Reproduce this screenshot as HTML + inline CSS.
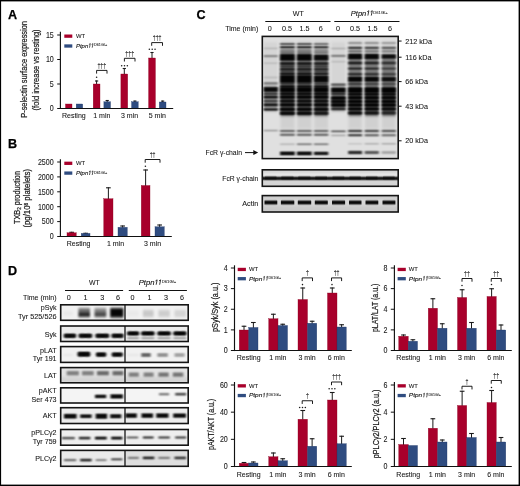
<!DOCTYPE html><html><head><meta charset="utf-8"><style>html,body{margin:0;padding:0;background:#fff;}svg{display:block;}svg{will-change:transform;}text{fill:#161616;stroke:#161616;stroke-width:0.08px;}</style></head><body>
<svg width="520" height="486" viewBox="0 0 520 486" font-family='"Liberation Sans", sans-serif'>
<defs><filter id="b1" x="-20%" y="-50%" width="140%" height="200%"><feGaussianBlur stdDeviation="0.75 0.65"/></filter><filter id="b2" x="-20%" y="-50%" width="140%" height="200%"><feGaussianBlur stdDeviation="1.1 0.9"/></filter><filter id="b3" x="-20%" y="-20%" width="140%" height="140%"><feGaussianBlur stdDeviation="0.65 0.8"/></filter><filter id="b4" x="-20%" y="-20%" width="140%" height="140%"><feGaussianBlur stdDeviation="1.2 1.5"/></filter><filter id="bh" x="-10%" y="-10%" width="120%" height="120%"><feGaussianBlur stdDeviation="0.8 0"/></filter><linearGradient id="g0" x1="0" y1="0" x2="0" y2="1"><stop offset="0.000" stop-opacity="0.008"/><stop offset="0.083" stop-opacity="0.037"/><stop offset="0.167" stop-opacity="0.119"/><stop offset="0.250" stop-opacity="0.285"/><stop offset="0.333" stop-opacity="0.511"/><stop offset="0.417" stop-opacity="0.714"/><stop offset="0.500" stop-opacity="0.795"/><stop offset="0.583" stop-opacity="0.714"/><stop offset="0.667" stop-opacity="0.511"/><stop offset="0.750" stop-opacity="0.285"/><stop offset="0.833" stop-opacity="0.119"/><stop offset="0.917" stop-opacity="0.037"/><stop offset="1.000" stop-opacity="0.008"/></linearGradient><linearGradient id="g1" x1="0" y1="0" x2="0" y2="1"><stop offset="0.000" stop-opacity="0.008"/><stop offset="0.083" stop-opacity="0.041"/><stop offset="0.167" stop-opacity="0.138"/><stop offset="0.250" stop-opacity="0.332"/><stop offset="0.333" stop-opacity="0.586"/><stop offset="0.417" stop-opacity="0.796"/><stop offset="0.500" stop-opacity="0.875"/><stop offset="0.583" stop-opacity="0.796"/><stop offset="0.667" stop-opacity="0.586"/><stop offset="0.750" stop-opacity="0.332"/><stop offset="0.833" stop-opacity="0.138"/><stop offset="0.917" stop-opacity="0.041"/><stop offset="1.000" stop-opacity="0.008"/></linearGradient><linearGradient id="g2" x1="0" y1="0" x2="0" y2="1"><stop offset="0.000" stop-opacity="0.008"/><stop offset="0.083" stop-opacity="0.040"/><stop offset="0.167" stop-opacity="0.133"/><stop offset="0.250" stop-opacity="0.320"/><stop offset="0.333" stop-opacity="0.568"/><stop offset="0.417" stop-opacity="0.777"/><stop offset="0.500" stop-opacity="0.858"/><stop offset="0.583" stop-opacity="0.777"/><stop offset="0.667" stop-opacity="0.568"/><stop offset="0.750" stop-opacity="0.320"/><stop offset="0.833" stop-opacity="0.133"/><stop offset="0.917" stop-opacity="0.040"/><stop offset="1.000" stop-opacity="0.008"/></linearGradient><linearGradient id="g3" x1="0" y1="0" x2="0" y2="1"><stop offset="0.000" stop-opacity="0.008"/><stop offset="0.083" stop-opacity="0.043"/><stop offset="0.167" stop-opacity="0.148"/><stop offset="0.250" stop-opacity="0.357"/><stop offset="0.333" stop-opacity="0.621"/><stop offset="0.417" stop-opacity="0.829"/><stop offset="0.500" stop-opacity="0.904"/><stop offset="0.583" stop-opacity="0.829"/><stop offset="0.667" stop-opacity="0.621"/><stop offset="0.750" stop-opacity="0.357"/><stop offset="0.833" stop-opacity="0.148"/><stop offset="0.917" stop-opacity="0.043"/><stop offset="1.000" stop-opacity="0.008"/></linearGradient><linearGradient id="g4" x1="0" y1="0" x2="0" y2="1"><stop offset="0.000" stop-opacity="0.008"/><stop offset="0.083" stop-opacity="0.070"/><stop offset="0.167" stop-opacity="0.289"/><stop offset="0.250" stop-opacity="0.643"/><stop offset="0.333" stop-opacity="0.901"/><stop offset="0.417" stop-opacity="0.986"/><stop offset="0.500" stop-opacity="0.998"/><stop offset="0.583" stop-opacity="0.986"/><stop offset="0.667" stop-opacity="0.901"/><stop offset="0.750" stop-opacity="0.643"/><stop offset="0.833" stop-opacity="0.289"/><stop offset="0.917" stop-opacity="0.070"/><stop offset="1.000" stop-opacity="0.008"/></linearGradient><linearGradient id="g5" x1="0" y1="0" x2="0" y2="1"><stop offset="0.000" stop-opacity="0.008"/><stop offset="0.083" stop-opacity="0.045"/><stop offset="0.167" stop-opacity="0.159"/><stop offset="0.250" stop-opacity="0.382"/><stop offset="0.333" stop-opacity="0.655"/><stop offset="0.417" stop-opacity="0.858"/><stop offset="0.500" stop-opacity="0.928"/><stop offset="0.583" stop-opacity="0.858"/><stop offset="0.667" stop-opacity="0.655"/><stop offset="0.750" stop-opacity="0.382"/><stop offset="0.833" stop-opacity="0.159"/><stop offset="0.917" stop-opacity="0.045"/><stop offset="1.000" stop-opacity="0.008"/></linearGradient><linearGradient id="g6" x1="0" y1="0" x2="0" y2="1"><stop offset="0.000" stop-opacity="0.008"/><stop offset="0.083" stop-opacity="0.039"/><stop offset="0.167" stop-opacity="0.128"/><stop offset="0.250" stop-opacity="0.308"/><stop offset="0.333" stop-opacity="0.549"/><stop offset="0.417" stop-opacity="0.757"/><stop offset="0.500" stop-opacity="0.838"/><stop offset="0.583" stop-opacity="0.757"/><stop offset="0.667" stop-opacity="0.549"/><stop offset="0.750" stop-opacity="0.308"/><stop offset="0.833" stop-opacity="0.128"/><stop offset="0.917" stop-opacity="0.039"/><stop offset="1.000" stop-opacity="0.008"/></linearGradient><linearGradient id="g7" x1="0" y1="0" x2="0" y2="1"><stop offset="0.000" stop-opacity="0.008"/><stop offset="0.083" stop-opacity="0.047"/><stop offset="0.167" stop-opacity="0.170"/><stop offset="0.250" stop-opacity="0.408"/><stop offset="0.333" stop-opacity="0.687"/><stop offset="0.417" stop-opacity="0.883"/><stop offset="0.500" stop-opacity="0.947"/><stop offset="0.583" stop-opacity="0.883"/><stop offset="0.667" stop-opacity="0.687"/><stop offset="0.750" stop-opacity="0.408"/><stop offset="0.833" stop-opacity="0.170"/><stop offset="0.917" stop-opacity="0.047"/><stop offset="1.000" stop-opacity="0.008"/></linearGradient><linearGradient id="g8" x1="0" y1="0" x2="0" y2="1"><stop offset="0.000" stop-opacity="0.008"/><stop offset="0.083" stop-opacity="0.105"/><stop offset="0.167" stop-opacity="0.456"/><stop offset="0.250" stop-opacity="0.849"/><stop offset="0.333" stop-opacity="0.985"/><stop offset="0.417" stop-opacity="1.000"/><stop offset="0.500" stop-opacity="1.000"/><stop offset="0.583" stop-opacity="1.000"/><stop offset="0.667" stop-opacity="0.985"/><stop offset="0.750" stop-opacity="0.849"/><stop offset="0.833" stop-opacity="0.456"/><stop offset="0.917" stop-opacity="0.105"/><stop offset="1.000" stop-opacity="0.008"/></linearGradient><linearGradient id="g9" x1="0" y1="0" x2="0" y2="1"><stop offset="0.000" stop-opacity="0.008"/><stop offset="0.083" stop-opacity="0.049"/><stop offset="0.167" stop-opacity="0.181"/><stop offset="0.250" stop-opacity="0.434"/><stop offset="0.333" stop-opacity="0.718"/><stop offset="0.417" stop-opacity="0.904"/><stop offset="0.500" stop-opacity="0.961"/><stop offset="0.583" stop-opacity="0.904"/><stop offset="0.667" stop-opacity="0.718"/><stop offset="0.750" stop-opacity="0.434"/><stop offset="0.833" stop-opacity="0.181"/><stop offset="0.917" stop-opacity="0.049"/><stop offset="1.000" stop-opacity="0.008"/></linearGradient><linearGradient id="g10" x1="0" y1="0" x2="0" y2="1"><stop offset="0.000" stop-opacity="0.008"/><stop offset="0.083" stop-opacity="0.126"/><stop offset="0.167" stop-opacity="0.544"/><stop offset="0.250" stop-opacity="0.914"/><stop offset="0.333" stop-opacity="0.996"/><stop offset="0.417" stop-opacity="1.000"/><stop offset="0.500" stop-opacity="1.000"/><stop offset="0.583" stop-opacity="1.000"/><stop offset="0.667" stop-opacity="0.996"/><stop offset="0.750" stop-opacity="0.914"/><stop offset="0.833" stop-opacity="0.544"/><stop offset="0.917" stop-opacity="0.126"/><stop offset="1.000" stop-opacity="0.008"/></linearGradient><linearGradient id="g11" x1="0" y1="0" x2="0" y2="1"><stop offset="0.000" stop-opacity="0.008"/><stop offset="0.083" stop-opacity="0.056"/><stop offset="0.167" stop-opacity="0.218"/><stop offset="0.250" stop-opacity="0.513"/><stop offset="0.333" stop-opacity="0.801"/><stop offset="0.417" stop-opacity="0.951"/><stop offset="0.500" stop-opacity="0.986"/><stop offset="0.583" stop-opacity="0.951"/><stop offset="0.667" stop-opacity="0.801"/><stop offset="0.750" stop-opacity="0.513"/><stop offset="0.833" stop-opacity="0.218"/><stop offset="0.917" stop-opacity="0.056"/><stop offset="1.000" stop-opacity="0.008"/></linearGradient><linearGradient id="g12" x1="0" y1="0" x2="0" y2="1"><stop offset="0.000" stop-opacity="0.008"/><stop offset="0.083" stop-opacity="0.086"/><stop offset="0.167" stop-opacity="0.369"/><stop offset="0.250" stop-opacity="0.758"/><stop offset="0.333" stop-opacity="0.958"/><stop offset="0.417" stop-opacity="0.997"/><stop offset="0.500" stop-opacity="1.000"/><stop offset="0.583" stop-opacity="0.997"/><stop offset="0.667" stop-opacity="0.958"/><stop offset="0.750" stop-opacity="0.758"/><stop offset="0.833" stop-opacity="0.369"/><stop offset="0.917" stop-opacity="0.086"/><stop offset="1.000" stop-opacity="0.008"/></linearGradient><linearGradient id="g13" x1="0" y1="0" x2="0" y2="1"><stop offset="0.000" stop-opacity="0.008"/><stop offset="0.083" stop-opacity="0.101"/><stop offset="0.167" stop-opacity="0.438"/><stop offset="0.250" stop-opacity="0.833"/><stop offset="0.333" stop-opacity="0.982"/><stop offset="0.417" stop-opacity="0.999"/><stop offset="0.500" stop-opacity="1.000"/><stop offset="0.583" stop-opacity="0.999"/><stop offset="0.667" stop-opacity="0.982"/><stop offset="0.750" stop-opacity="0.833"/><stop offset="0.833" stop-opacity="0.438"/><stop offset="0.917" stop-opacity="0.101"/><stop offset="1.000" stop-opacity="0.008"/></linearGradient><linearGradient id="g14" x1="0" y1="0" x2="0" y2="1"><stop offset="0.000" stop-opacity="0.008"/><stop offset="0.083" stop-opacity="0.051"/><stop offset="0.167" stop-opacity="0.193"/><stop offset="0.250" stop-opacity="0.460"/><stop offset="0.333" stop-opacity="0.747"/><stop offset="0.417" stop-opacity="0.923"/><stop offset="0.500" stop-opacity="0.972"/><stop offset="0.583" stop-opacity="0.923"/><stop offset="0.667" stop-opacity="0.747"/><stop offset="0.750" stop-opacity="0.460"/><stop offset="0.833" stop-opacity="0.193"/><stop offset="0.917" stop-opacity="0.051"/><stop offset="1.000" stop-opacity="0.008"/></linearGradient><linearGradient id="g15" x1="0" y1="0" x2="0" y2="1"><stop offset="0.000" stop-opacity="0.008"/><stop offset="0.083" stop-opacity="0.050"/><stop offset="0.167" stop-opacity="0.187"/><stop offset="0.250" stop-opacity="0.447"/><stop offset="0.333" stop-opacity="0.733"/><stop offset="0.417" stop-opacity="0.914"/><stop offset="0.500" stop-opacity="0.967"/><stop offset="0.583" stop-opacity="0.914"/><stop offset="0.667" stop-opacity="0.733"/><stop offset="0.750" stop-opacity="0.447"/><stop offset="0.833" stop-opacity="0.187"/><stop offset="0.917" stop-opacity="0.050"/><stop offset="1.000" stop-opacity="0.008"/></linearGradient><linearGradient id="g16" x1="0" y1="0" x2="0" y2="1"><stop offset="0.000" stop-opacity="0.008"/><stop offset="0.083" stop-opacity="0.082"/><stop offset="0.167" stop-opacity="0.353"/><stop offset="0.250" stop-opacity="0.737"/><stop offset="0.333" stop-opacity="0.950"/><stop offset="0.417" stop-opacity="0.996"/><stop offset="0.500" stop-opacity="1.000"/><stop offset="0.583" stop-opacity="0.996"/><stop offset="0.667" stop-opacity="0.950"/><stop offset="0.750" stop-opacity="0.737"/><stop offset="0.833" stop-opacity="0.353"/><stop offset="0.917" stop-opacity="0.082"/><stop offset="1.000" stop-opacity="0.008"/></linearGradient><linearGradient id="g17" x1="0" y1="0" x2="0" y2="1"><stop offset="0.000" stop-opacity="0.008"/><stop offset="0.083" stop-opacity="0.073"/><stop offset="0.167" stop-opacity="0.305"/><stop offset="0.250" stop-opacity="0.668"/><stop offset="0.333" stop-opacity="0.916"/><stop offset="0.417" stop-opacity="0.990"/><stop offset="0.500" stop-opacity="0.999"/><stop offset="0.583" stop-opacity="0.990"/><stop offset="0.667" stop-opacity="0.916"/><stop offset="0.750" stop-opacity="0.668"/><stop offset="0.833" stop-opacity="0.305"/><stop offset="0.917" stop-opacity="0.073"/><stop offset="1.000" stop-opacity="0.008"/></linearGradient><linearGradient id="g18" x1="0" y1="0" x2="0" y2="1"><stop offset="0.000" stop-opacity="0.008"/><stop offset="0.083" stop-opacity="0.077"/><stop offset="0.167" stop-opacity="0.328"/><stop offset="0.250" stop-opacity="0.703"/><stop offset="0.333" stop-opacity="0.935"/><stop offset="0.417" stop-opacity="0.994"/><stop offset="0.500" stop-opacity="0.999"/><stop offset="0.583" stop-opacity="0.994"/><stop offset="0.667" stop-opacity="0.935"/><stop offset="0.750" stop-opacity="0.703"/><stop offset="0.833" stop-opacity="0.328"/><stop offset="0.917" stop-opacity="0.077"/><stop offset="1.000" stop-opacity="0.008"/></linearGradient><linearGradient id="g19" x1="0" y1="0" x2="0" y2="1"><stop offset="0.000" stop-opacity="0.008"/><stop offset="0.083" stop-opacity="0.063"/><stop offset="0.167" stop-opacity="0.252"/><stop offset="0.250" stop-opacity="0.579"/><stop offset="0.333" stop-opacity="0.857"/><stop offset="0.417" stop-opacity="0.973"/><stop offset="0.500" stop-opacity="0.995"/><stop offset="0.583" stop-opacity="0.973"/><stop offset="0.667" stop-opacity="0.857"/><stop offset="0.750" stop-opacity="0.579"/><stop offset="0.833" stop-opacity="0.252"/><stop offset="0.917" stop-opacity="0.063"/><stop offset="1.000" stop-opacity="0.008"/></linearGradient><linearGradient id="g20" x1="0" y1="0" x2="0" y2="1"><stop offset="0.000" stop-opacity="0.008"/><stop offset="0.083" stop-opacity="0.054"/><stop offset="0.167" stop-opacity="0.208"/><stop offset="0.250" stop-opacity="0.491"/><stop offset="0.333" stop-opacity="0.780"/><stop offset="0.417" stop-opacity="0.940"/><stop offset="0.500" stop-opacity="0.982"/><stop offset="0.583" stop-opacity="0.940"/><stop offset="0.667" stop-opacity="0.780"/><stop offset="0.750" stop-opacity="0.491"/><stop offset="0.833" stop-opacity="0.208"/><stop offset="0.917" stop-opacity="0.054"/><stop offset="1.000" stop-opacity="0.008"/></linearGradient><linearGradient id="g21" x1="0" y1="0" x2="0" y2="1"><stop offset="0.000" stop-opacity="0.008"/><stop offset="0.083" stop-opacity="0.050"/><stop offset="0.167" stop-opacity="0.188"/><stop offset="0.250" stop-opacity="0.449"/><stop offset="0.333" stop-opacity="0.735"/><stop offset="0.417" stop-opacity="0.915"/><stop offset="0.500" stop-opacity="0.968"/><stop offset="0.583" stop-opacity="0.915"/><stop offset="0.667" stop-opacity="0.735"/><stop offset="0.750" stop-opacity="0.449"/><stop offset="0.833" stop-opacity="0.188"/><stop offset="0.917" stop-opacity="0.050"/><stop offset="1.000" stop-opacity="0.008"/></linearGradient><linearGradient id="g22" x1="0" y1="0" x2="0" y2="1"><stop offset="0.000" stop-opacity="0.008"/><stop offset="0.083" stop-opacity="0.061"/><stop offset="0.167" stop-opacity="0.243"/><stop offset="0.250" stop-opacity="0.562"/><stop offset="0.333" stop-opacity="0.844"/><stop offset="0.417" stop-opacity="0.969"/><stop offset="0.500" stop-opacity="0.993"/><stop offset="0.583" stop-opacity="0.969"/><stop offset="0.667" stop-opacity="0.844"/><stop offset="0.750" stop-opacity="0.562"/><stop offset="0.833" stop-opacity="0.243"/><stop offset="0.917" stop-opacity="0.061"/><stop offset="1.000" stop-opacity="0.008"/></linearGradient><linearGradient id="g23" x1="0" y1="0" x2="0" y2="1"><stop offset="0.000" stop-opacity="0.008"/><stop offset="0.083" stop-opacity="0.070"/><stop offset="0.167" stop-opacity="0.288"/><stop offset="0.250" stop-opacity="0.642"/><stop offset="0.333" stop-opacity="0.900"/><stop offset="0.417" stop-opacity="0.986"/><stop offset="0.500" stop-opacity="0.998"/><stop offset="0.583" stop-opacity="0.986"/><stop offset="0.667" stop-opacity="0.900"/><stop offset="0.750" stop-opacity="0.642"/><stop offset="0.833" stop-opacity="0.288"/><stop offset="0.917" stop-opacity="0.070"/><stop offset="1.000" stop-opacity="0.008"/></linearGradient><linearGradient id="g24" x1="0" y1="0" x2="0" y2="1"><stop offset="0.000" stop-opacity="0.008"/><stop offset="0.083" stop-opacity="0.067"/><stop offset="0.167" stop-opacity="0.274"/><stop offset="0.250" stop-opacity="0.618"/><stop offset="0.333" stop-opacity="0.885"/><stop offset="0.417" stop-opacity="0.982"/><stop offset="0.500" stop-opacity="0.997"/><stop offset="0.583" stop-opacity="0.982"/><stop offset="0.667" stop-opacity="0.885"/><stop offset="0.750" stop-opacity="0.618"/><stop offset="0.833" stop-opacity="0.274"/><stop offset="0.917" stop-opacity="0.067"/><stop offset="1.000" stop-opacity="0.008"/></linearGradient><linearGradient id="g25" x1="0" y1="0" x2="0" y2="1"><stop offset="0.000" stop-opacity="0.008"/><stop offset="0.083" stop-opacity="0.062"/><stop offset="0.167" stop-opacity="0.247"/><stop offset="0.250" stop-opacity="0.569"/><stop offset="0.333" stop-opacity="0.849"/><stop offset="0.417" stop-opacity="0.971"/><stop offset="0.500" stop-opacity="0.994"/><stop offset="0.583" stop-opacity="0.971"/><stop offset="0.667" stop-opacity="0.849"/><stop offset="0.750" stop-opacity="0.569"/><stop offset="0.833" stop-opacity="0.247"/><stop offset="0.917" stop-opacity="0.062"/><stop offset="1.000" stop-opacity="0.008"/></linearGradient><linearGradient id="g26" x1="0" y1="0" x2="0" y2="1"><stop offset="0.000" stop-opacity="0.008"/><stop offset="0.083" stop-opacity="0.154"/><stop offset="0.167" stop-opacity="0.640"/><stop offset="0.250" stop-opacity="0.959"/><stop offset="0.333" stop-opacity="0.999"/><stop offset="0.417" stop-opacity="1.000"/><stop offset="0.500" stop-opacity="1.000"/><stop offset="0.583" stop-opacity="1.000"/><stop offset="0.667" stop-opacity="0.999"/><stop offset="0.750" stop-opacity="0.959"/><stop offset="0.833" stop-opacity="0.640"/><stop offset="0.917" stop-opacity="0.154"/><stop offset="1.000" stop-opacity="0.008"/></linearGradient><linearGradient id="g27" x1="0" y1="0" x2="0" y2="1"><stop offset="0.000" stop-opacity="0.008"/><stop offset="0.083" stop-opacity="0.085"/><stop offset="0.167" stop-opacity="0.363"/><stop offset="0.250" stop-opacity="0.750"/><stop offset="0.333" stop-opacity="0.955"/><stop offset="0.417" stop-opacity="0.997"/><stop offset="0.500" stop-opacity="1.000"/><stop offset="0.583" stop-opacity="0.997"/><stop offset="0.667" stop-opacity="0.955"/><stop offset="0.750" stop-opacity="0.750"/><stop offset="0.833" stop-opacity="0.363"/><stop offset="0.917" stop-opacity="0.085"/><stop offset="1.000" stop-opacity="0.008"/></linearGradient><linearGradient id="g28" x1="0" y1="0" x2="0" y2="1"><stop offset="0.000" stop-opacity="0.008"/><stop offset="0.083" stop-opacity="0.102"/><stop offset="0.167" stop-opacity="0.444"/><stop offset="0.250" stop-opacity="0.838"/><stop offset="0.333" stop-opacity="0.983"/><stop offset="0.417" stop-opacity="0.999"/><stop offset="0.500" stop-opacity="1.000"/><stop offset="0.583" stop-opacity="0.999"/><stop offset="0.667" stop-opacity="0.983"/><stop offset="0.750" stop-opacity="0.838"/><stop offset="0.833" stop-opacity="0.444"/><stop offset="0.917" stop-opacity="0.102"/><stop offset="1.000" stop-opacity="0.008"/></linearGradient><linearGradient id="g29" x1="0" y1="0" x2="0" y2="1"><stop offset="0.000" stop-opacity="0.008"/><stop offset="0.083" stop-opacity="0.038"/><stop offset="0.167" stop-opacity="0.127"/><stop offset="0.250" stop-opacity="0.304"/><stop offset="0.333" stop-opacity="0.542"/><stop offset="0.417" stop-opacity="0.750"/><stop offset="0.500" stop-opacity="0.831"/><stop offset="0.583" stop-opacity="0.750"/><stop offset="0.667" stop-opacity="0.542"/><stop offset="0.750" stop-opacity="0.304"/><stop offset="0.833" stop-opacity="0.127"/><stop offset="0.917" stop-opacity="0.038"/><stop offset="1.000" stop-opacity="0.008"/></linearGradient><linearGradient id="g30" x1="0" y1="0" x2="0" y2="1"><stop offset="0.000" stop-opacity="0.008"/><stop offset="0.083" stop-opacity="0.059"/><stop offset="0.167" stop-opacity="0.234"/><stop offset="0.250" stop-opacity="0.545"/><stop offset="0.333" stop-opacity="0.829"/><stop offset="0.417" stop-opacity="0.963"/><stop offset="0.500" stop-opacity="0.991"/><stop offset="0.583" stop-opacity="0.963"/><stop offset="0.667" stop-opacity="0.829"/><stop offset="0.750" stop-opacity="0.545"/><stop offset="0.833" stop-opacity="0.234"/><stop offset="0.917" stop-opacity="0.059"/><stop offset="1.000" stop-opacity="0.008"/></linearGradient><linearGradient id="g31" x1="0" y1="0" x2="0" y2="1"><stop offset="0.000" stop-opacity="0.008"/><stop offset="0.083" stop-opacity="0.037"/><stop offset="0.167" stop-opacity="0.122"/><stop offset="0.250" stop-opacity="0.293"/><stop offset="0.333" stop-opacity="0.525"/><stop offset="0.417" stop-opacity="0.729"/><stop offset="0.500" stop-opacity="0.811"/><stop offset="0.583" stop-opacity="0.729"/><stop offset="0.667" stop-opacity="0.525"/><stop offset="0.750" stop-opacity="0.293"/><stop offset="0.833" stop-opacity="0.122"/><stop offset="0.917" stop-opacity="0.037"/><stop offset="1.000" stop-opacity="0.008"/></linearGradient><linearGradient id="g32" x1="0" y1="0" x2="0" y2="1"><stop offset="0.000" stop-opacity="0.008"/><stop offset="0.083" stop-opacity="0.037"/><stop offset="0.167" stop-opacity="0.118"/><stop offset="0.250" stop-opacity="0.282"/><stop offset="0.333" stop-opacity="0.506"/><stop offset="0.417" stop-opacity="0.708"/><stop offset="0.500" stop-opacity="0.789"/><stop offset="0.583" stop-opacity="0.708"/><stop offset="0.667" stop-opacity="0.506"/><stop offset="0.750" stop-opacity="0.282"/><stop offset="0.833" stop-opacity="0.118"/><stop offset="0.917" stop-opacity="0.037"/><stop offset="1.000" stop-opacity="0.008"/></linearGradient><linearGradient id="g33" x1="0" y1="0" x2="0" y2="1"><stop offset="0.000" stop-opacity="0.008"/><stop offset="0.083" stop-opacity="0.046"/><stop offset="0.167" stop-opacity="0.165"/><stop offset="0.250" stop-opacity="0.396"/><stop offset="0.333" stop-opacity="0.673"/><stop offset="0.417" stop-opacity="0.873"/><stop offset="0.500" stop-opacity="0.939"/><stop offset="0.583" stop-opacity="0.873"/><stop offset="0.667" stop-opacity="0.673"/><stop offset="0.750" stop-opacity="0.396"/><stop offset="0.833" stop-opacity="0.165"/><stop offset="0.917" stop-opacity="0.046"/><stop offset="1.000" stop-opacity="0.008"/></linearGradient><linearGradient id="g34" x1="0" y1="0" x2="0" y2="1"><stop offset="0.000" stop-opacity="0.008"/><stop offset="0.083" stop-opacity="0.041"/><stop offset="0.167" stop-opacity="0.140"/><stop offset="0.250" stop-opacity="0.338"/><stop offset="0.333" stop-opacity="0.594"/><stop offset="0.417" stop-opacity="0.803"/><stop offset="0.500" stop-opacity="0.882"/><stop offset="0.583" stop-opacity="0.803"/><stop offset="0.667" stop-opacity="0.594"/><stop offset="0.750" stop-opacity="0.338"/><stop offset="0.833" stop-opacity="0.140"/><stop offset="0.917" stop-opacity="0.041"/><stop offset="1.000" stop-opacity="0.008"/></linearGradient><linearGradient id="g35" x1="0" y1="0" x2="0" y2="1"><stop offset="0.000" stop-opacity="0.008"/><stop offset="0.083" stop-opacity="0.054"/><stop offset="0.167" stop-opacity="0.209"/><stop offset="0.250" stop-opacity="0.495"/><stop offset="0.333" stop-opacity="0.783"/><stop offset="0.417" stop-opacity="0.942"/><stop offset="0.500" stop-opacity="0.982"/><stop offset="0.583" stop-opacity="0.942"/><stop offset="0.667" stop-opacity="0.783"/><stop offset="0.750" stop-opacity="0.495"/><stop offset="0.833" stop-opacity="0.209"/><stop offset="0.917" stop-opacity="0.054"/><stop offset="1.000" stop-opacity="0.008"/></linearGradient><linearGradient id="g36" x1="0" y1="0" x2="0" y2="1"><stop offset="0.000" stop-opacity="0.008"/><stop offset="0.083" stop-opacity="0.049"/><stop offset="0.167" stop-opacity="0.184"/><stop offset="0.250" stop-opacity="0.440"/><stop offset="0.333" stop-opacity="0.726"/><stop offset="0.417" stop-opacity="0.909"/><stop offset="0.500" stop-opacity="0.964"/><stop offset="0.583" stop-opacity="0.909"/><stop offset="0.667" stop-opacity="0.726"/><stop offset="0.750" stop-opacity="0.440"/><stop offset="0.833" stop-opacity="0.184"/><stop offset="0.917" stop-opacity="0.049"/><stop offset="1.000" stop-opacity="0.008"/></linearGradient><linearGradient id="g37" x1="0" y1="0" x2="0" y2="1"><stop offset="0.000" stop-opacity="0.008"/><stop offset="0.083" stop-opacity="0.050"/><stop offset="0.167" stop-opacity="0.186"/><stop offset="0.250" stop-opacity="0.445"/><stop offset="0.333" stop-opacity="0.731"/><stop offset="0.417" stop-opacity="0.913"/><stop offset="0.500" stop-opacity="0.966"/><stop offset="0.583" stop-opacity="0.913"/><stop offset="0.667" stop-opacity="0.731"/><stop offset="0.750" stop-opacity="0.445"/><stop offset="0.833" stop-opacity="0.186"/><stop offset="0.917" stop-opacity="0.050"/><stop offset="1.000" stop-opacity="0.008"/></linearGradient><linearGradient id="g38" x1="0" y1="0" x2="0" y2="1"><stop offset="0.000" stop-opacity="0.008"/><stop offset="0.083" stop-opacity="0.042"/><stop offset="0.167" stop-opacity="0.145"/><stop offset="0.250" stop-opacity="0.349"/><stop offset="0.333" stop-opacity="0.610"/><stop offset="0.417" stop-opacity="0.819"/><stop offset="0.500" stop-opacity="0.896"/><stop offset="0.583" stop-opacity="0.819"/><stop offset="0.667" stop-opacity="0.610"/><stop offset="0.750" stop-opacity="0.349"/><stop offset="0.833" stop-opacity="0.145"/><stop offset="0.917" stop-opacity="0.042"/><stop offset="1.000" stop-opacity="0.008"/></linearGradient><linearGradient id="g39" x1="0" y1="0" x2="0" y2="1"><stop offset="0.000" stop-opacity="0.008"/><stop offset="0.083" stop-opacity="0.044"/><stop offset="0.167" stop-opacity="0.155"/><stop offset="0.250" stop-opacity="0.373"/><stop offset="0.333" stop-opacity="0.642"/><stop offset="0.417" stop-opacity="0.848"/><stop offset="0.500" stop-opacity="0.920"/><stop offset="0.583" stop-opacity="0.848"/><stop offset="0.667" stop-opacity="0.642"/><stop offset="0.750" stop-opacity="0.373"/><stop offset="0.833" stop-opacity="0.155"/><stop offset="0.917" stop-opacity="0.044"/><stop offset="1.000" stop-opacity="0.008"/></linearGradient><linearGradient id="g40" x1="0" y1="0" x2="0" y2="1"><stop offset="0.000" stop-opacity="0.008"/><stop offset="0.083" stop-opacity="0.064"/><stop offset="0.167" stop-opacity="0.261"/><stop offset="0.250" stop-opacity="0.594"/><stop offset="0.333" stop-opacity="0.868"/><stop offset="0.417" stop-opacity="0.977"/><stop offset="0.500" stop-opacity="0.996"/><stop offset="0.583" stop-opacity="0.977"/><stop offset="0.667" stop-opacity="0.868"/><stop offset="0.750" stop-opacity="0.594"/><stop offset="0.833" stop-opacity="0.261"/><stop offset="0.917" stop-opacity="0.064"/><stop offset="1.000" stop-opacity="0.008"/></linearGradient><linearGradient id="g41" x1="0" y1="0" x2="0" y2="1"><stop offset="0.000" stop-opacity="0.008"/><stop offset="0.083" stop-opacity="0.052"/><stop offset="0.167" stop-opacity="0.198"/><stop offset="0.250" stop-opacity="0.470"/><stop offset="0.333" stop-opacity="0.758"/><stop offset="0.417" stop-opacity="0.929"/><stop offset="0.500" stop-opacity="0.976"/><stop offset="0.583" stop-opacity="0.929"/><stop offset="0.667" stop-opacity="0.758"/><stop offset="0.750" stop-opacity="0.470"/><stop offset="0.833" stop-opacity="0.198"/><stop offset="0.917" stop-opacity="0.052"/><stop offset="1.000" stop-opacity="0.008"/></linearGradient><linearGradient id="g42" x1="0" y1="0" x2="0" y2="1"><stop offset="0.000" stop-opacity="0.008"/><stop offset="0.083" stop-opacity="0.057"/><stop offset="0.167" stop-opacity="0.222"/><stop offset="0.250" stop-opacity="0.520"/><stop offset="0.333" stop-opacity="0.807"/><stop offset="0.417" stop-opacity="0.953"/><stop offset="0.500" stop-opacity="0.988"/><stop offset="0.583" stop-opacity="0.953"/><stop offset="0.667" stop-opacity="0.807"/><stop offset="0.750" stop-opacity="0.520"/><stop offset="0.833" stop-opacity="0.222"/><stop offset="0.917" stop-opacity="0.057"/><stop offset="1.000" stop-opacity="0.008"/></linearGradient><linearGradient id="g43" x1="0" y1="0" x2="0" y2="1"><stop offset="0.000" stop-opacity="0.008"/><stop offset="0.083" stop-opacity="0.040"/><stop offset="0.167" stop-opacity="0.136"/><stop offset="0.250" stop-opacity="0.326"/><stop offset="0.333" stop-opacity="0.577"/><stop offset="0.417" stop-opacity="0.787"/><stop offset="0.500" stop-opacity="0.866"/><stop offset="0.583" stop-opacity="0.787"/><stop offset="0.667" stop-opacity="0.577"/><stop offset="0.750" stop-opacity="0.326"/><stop offset="0.833" stop-opacity="0.136"/><stop offset="0.917" stop-opacity="0.040"/><stop offset="1.000" stop-opacity="0.008"/></linearGradient></defs>
<rect x="0" y="0" width="520" height="486" fill="#fff" />
<text x="8" y="18.7" font-size="12.6" font-weight="bold" style="fill:#000;stroke:#000;stroke-width:0.25px">A</text>
<text x="8.1" y="147.7" font-size="12.6" font-weight="bold" style="fill:#000;stroke:#000;stroke-width:0.25px">B</text>
<text x="196.4" y="18.7" font-size="12.6" font-weight="bold" style="fill:#000;stroke:#000;stroke-width:0.25px">C</text>
<text x="7.9" y="275.1" font-size="12.6" font-weight="bold" style="fill:#000;stroke:#000;stroke-width:0.25px">D</text>
<rect x="65.5" y="104" width="6.5" height="4.5" fill="#a8002b" stroke="#8c0020" stroke-width="0.35"/>
<rect x="76.2" y="104" width="6.5" height="4.5" fill="#2f4c80" stroke="#1d3464" stroke-width="0.35"/>
<line x1="96.6" y1="80.5" x2="96.6" y2="84.5" stroke="#1a1a1a" stroke-width="1"/>
<line x1="95" y1="81" x2="98.2" y2="81" stroke="#1a1a1a" stroke-width="1.1"/>
<rect x="93.2" y="84" width="6.8" height="24.5" fill="#a8002b" stroke="#8c0020" stroke-width="0.35"/>
<line x1="107.2" y1="100" x2="107.2" y2="102.3" stroke="#1a1a1a" stroke-width="1"/>
<line x1="105.6" y1="100.5" x2="108.8" y2="100.5" stroke="#1a1a1a" stroke-width="1.1"/>
<rect x="103.9" y="101.8" width="6.6" height="6.7" fill="#2f4c80" stroke="#1d3464" stroke-width="0.35"/>
<line x1="124.3" y1="68" x2="124.3" y2="74.5" stroke="#1a1a1a" stroke-width="1"/>
<line x1="122.7" y1="68.5" x2="125.9" y2="68.5" stroke="#1a1a1a" stroke-width="1.1"/>
<rect x="120.9" y="74" width="6.8" height="34.5" fill="#a8002b" stroke="#8c0020" stroke-width="0.35"/>
<line x1="134.9" y1="100.6" x2="134.9" y2="102.3" stroke="#1a1a1a" stroke-width="1"/>
<line x1="133.3" y1="101.1" x2="136.5" y2="101.1" stroke="#1a1a1a" stroke-width="1.1"/>
<rect x="131.6" y="101.8" width="6.6" height="6.7" fill="#2f4c80" stroke="#1d3464" stroke-width="0.35"/>
<line x1="152" y1="52" x2="152" y2="58.5" stroke="#1a1a1a" stroke-width="1"/>
<line x1="150.4" y1="52.5" x2="153.6" y2="52.5" stroke="#1a1a1a" stroke-width="1.1"/>
<rect x="148.6" y="58" width="6.8" height="50.5" fill="#a8002b" stroke="#8c0020" stroke-width="0.35"/>
<line x1="162.65" y1="100.6" x2="162.65" y2="102.5" stroke="#1a1a1a" stroke-width="1"/>
<line x1="161.05" y1="101.1" x2="164.25" y2="101.1" stroke="#1a1a1a" stroke-width="1.1"/>
<rect x="159.3" y="102" width="6.7" height="6.5" fill="#2f4c80" stroke="#1d3464" stroke-width="0.35"/>
<line x1="60.4" y1="31.8" x2="60.4" y2="109.05" stroke="#111" stroke-width="1.15"/>
<line x1="59.85" y1="108.5" x2="173.2" y2="108.5" stroke="#111" stroke-width="1.1"/>
<line x1="57.2" y1="108.5" x2="60.4" y2="108.5" stroke="#111" stroke-width="1"/>
<text x="53.8" y="111.35" font-size="8.2" text-anchor="end" textLength="3.95" lengthAdjust="spacingAndGlyphs">0</text>
<line x1="57.2" y1="84" x2="60.4" y2="84" stroke="#111" stroke-width="1"/>
<text x="53.8" y="86.85" font-size="8.2" text-anchor="end" textLength="3.95" lengthAdjust="spacingAndGlyphs">5</text>
<line x1="57.2" y1="59.5" x2="60.4" y2="59.5" stroke="#111" stroke-width="1"/>
<text x="53.8" y="62.35" font-size="8.2" text-anchor="end" textLength="7.9" lengthAdjust="spacingAndGlyphs">10</text>
<line x1="57.2" y1="35" x2="60.4" y2="35" stroke="#111" stroke-width="1"/>
<text x="53.8" y="37.85" font-size="8.2" text-anchor="end" textLength="7.9" lengthAdjust="spacingAndGlyphs">15</text>
<text x="73.85" y="118.1" font-size="7.4" text-anchor="middle" textLength="23.83" lengthAdjust="spacingAndGlyphs">Resting</text>
<text x="101.85" y="118.1" font-size="7.4" text-anchor="middle" textLength="17.19" lengthAdjust="spacingAndGlyphs">1 min</text>
<text x="129.6" y="118.1" font-size="7.4" text-anchor="middle" textLength="17.19" lengthAdjust="spacingAndGlyphs">3 min</text>
<text x="157.3" y="118.1" font-size="7.4" text-anchor="middle" textLength="17.19" lengthAdjust="spacingAndGlyphs">5 min</text>
<polyline points="96.6,73.6 96.6,70.4 107,70.4 107,73.6" fill="none" stroke="#111" stroke-width="0.95"/>
<text x="101.8" y="67.7" font-size="6.8" text-anchor="middle" textLength="8.7" lengthAdjust="spacingAndGlyphs">†††</text>
<polyline points="124.4,61.5 124.4,58.3 135,58.3 135,61.5" fill="none" stroke="#111" stroke-width="0.95"/>
<text x="129.7" y="55.6" font-size="6.8" text-anchor="middle" textLength="8.7" lengthAdjust="spacingAndGlyphs">†††</text>
<polyline points="151.7,45.8 151.7,42.6 162.5,42.6 162.5,45.8" fill="none" stroke="#111" stroke-width="0.95"/>
<text x="157.1" y="39.9" font-size="6.8" text-anchor="middle" textLength="8.7" lengthAdjust="spacingAndGlyphs">†††</text>
<circle cx="96.6" cy="77.2" r="0.78" fill="#1a1a1a"/>
<circle cx="121.65" cy="65.7" r="0.78" fill="#1a1a1a"/>
<circle cx="124.5" cy="65.7" r="0.78" fill="#1a1a1a"/>
<circle cx="127.35" cy="65.7" r="0.78" fill="#1a1a1a"/>
<circle cx="149.35" cy="49.2" r="0.78" fill="#1a1a1a"/>
<circle cx="152.2" cy="49.2" r="0.78" fill="#1a1a1a"/>
<circle cx="155.05" cy="49.2" r="0.78" fill="#1a1a1a"/>
<rect x="64.3" y="34.5" width="8" height="3.3" fill="#a8002b" />
<text x="75.9" y="37.9" font-size="6.2" textLength="9.16" lengthAdjust="spacingAndGlyphs">WT</text>
<rect x="64.3" y="44.35" width="8" height="3.3" fill="#2f4c80" />
<text x="75.9" y="47.7" font-size="6.2" font-style="italic" style="stroke-width:0.12px" textLength="12.32" lengthAdjust="spacingAndGlyphs">Ptpn</text>
<path d="M89.48,47.7 L90.3,43.61 L88.94,44.48" fill="none" stroke="#161616" stroke-width="0.71" stroke-linejoin="miter"/>
<path d="M92.21,47.7 L93.03,43.61 L91.67,44.48" fill="none" stroke="#161616" stroke-width="0.71" stroke-linejoin="miter"/>
<text x="93.9" y="46.21" font-size="3.47" style="stroke-width:0.05px" textLength="13.3" lengthAdjust="spacingAndGlyphs">D61G/+</text>
<text transform="translate(27.4,69.4) rotate(-90)" font-size="8.2" text-anchor="middle" style="stroke-width:0.2px" textLength="96.7" lengthAdjust="spacingAndGlyphs">P-selectin surface expression</text>
<text transform="translate(38.9,69.9) rotate(-90)" font-size="8.2" text-anchor="middle" style="stroke-width:0.2px" textLength="81" lengthAdjust="spacingAndGlyphs">(fold increase vs resting)</text>
<line x1="71.62" y1="231.8" x2="71.62" y2="233.3" stroke="#1a1a1a" stroke-width="1"/>
<line x1="69.28" y1="232.3" x2="73.97" y2="232.3" stroke="#1a1a1a" stroke-width="1.1"/>
<rect x="67" y="232.8" width="9.25" height="3.7" fill="#a8002b" stroke="#8c0020" stroke-width="0.35"/>
<line x1="85.62" y1="232.8" x2="85.62" y2="233.9" stroke="#1a1a1a" stroke-width="1"/>
<line x1="83.28" y1="233.3" x2="87.97" y2="233.3" stroke="#1a1a1a" stroke-width="1.1"/>
<rect x="81.25" y="233.4" width="8.75" height="3.1" fill="#2f4c80" stroke="#1d3464" stroke-width="0.35"/>
<line x1="108.38" y1="187.3" x2="108.38" y2="199.25" stroke="#1a1a1a" stroke-width="1"/>
<line x1="106.03" y1="187.8" x2="110.72" y2="187.8" stroke="#1a1a1a" stroke-width="1.1"/>
<rect x="103.75" y="198.75" width="9.25" height="37.75" fill="#a8002b" stroke="#8c0020" stroke-width="0.35"/>
<line x1="122.62" y1="225.5" x2="122.62" y2="227.8" stroke="#1a1a1a" stroke-width="1"/>
<line x1="120.28" y1="226" x2="124.97" y2="226" stroke="#1a1a1a" stroke-width="1.1"/>
<rect x="118" y="227.3" width="9.25" height="9.2" fill="#2f4c80" stroke="#1d3464" stroke-width="0.35"/>
<line x1="145.62" y1="169.5" x2="145.62" y2="186" stroke="#1a1a1a" stroke-width="1"/>
<line x1="143.28" y1="170" x2="147.97" y2="170" stroke="#1a1a1a" stroke-width="1.1"/>
<rect x="141.25" y="185.5" width="8.75" height="51" fill="#a8002b" stroke="#8c0020" stroke-width="0.35"/>
<line x1="159.62" y1="224.5" x2="159.62" y2="227.3" stroke="#1a1a1a" stroke-width="1"/>
<line x1="157.28" y1="225" x2="161.97" y2="225" stroke="#1a1a1a" stroke-width="1.1"/>
<rect x="155" y="226.8" width="9.25" height="9.7" fill="#2f4c80" stroke="#1d3464" stroke-width="0.35"/>
<line x1="60.4" y1="159.3" x2="60.4" y2="237.05" stroke="#111" stroke-width="1.15"/>
<line x1="59.85" y1="236.5" x2="171.8" y2="236.5" stroke="#111" stroke-width="1.1"/>
<line x1="57.2" y1="236.5" x2="60.4" y2="236.5" stroke="#111" stroke-width="1"/>
<text x="53.7" y="239.35" font-size="8.2" text-anchor="end" textLength="3.95" lengthAdjust="spacingAndGlyphs">0</text>
<line x1="57.2" y1="221.6" x2="60.4" y2="221.6" stroke="#111" stroke-width="1"/>
<text x="53.7" y="224.45" font-size="8.2" text-anchor="end" textLength="11.85" lengthAdjust="spacingAndGlyphs">500</text>
<line x1="57.2" y1="206.7" x2="60.4" y2="206.7" stroke="#111" stroke-width="1"/>
<text x="53.7" y="209.55" font-size="8.2" text-anchor="end" textLength="15.8" lengthAdjust="spacingAndGlyphs">1000</text>
<line x1="57.2" y1="191.8" x2="60.4" y2="191.8" stroke="#111" stroke-width="1"/>
<text x="53.7" y="194.65" font-size="8.2" text-anchor="end" textLength="15.8" lengthAdjust="spacingAndGlyphs">1500</text>
<line x1="57.2" y1="176.9" x2="60.4" y2="176.9" stroke="#111" stroke-width="1"/>
<text x="53.7" y="179.75" font-size="8.2" text-anchor="end" textLength="15.8" lengthAdjust="spacingAndGlyphs">2000</text>
<line x1="57.2" y1="162" x2="60.4" y2="162" stroke="#111" stroke-width="1"/>
<text x="53.7" y="164.85" font-size="8.2" text-anchor="end" textLength="15.8" lengthAdjust="spacingAndGlyphs">2500</text>
<text x="78.6" y="245.6" font-size="7.4" text-anchor="middle" textLength="23.83" lengthAdjust="spacingAndGlyphs">Resting</text>
<text x="115.5" y="245.6" font-size="7.4" text-anchor="middle" textLength="17.19" lengthAdjust="spacingAndGlyphs">1 min</text>
<text x="152.6" y="245.6" font-size="7.4" text-anchor="middle" textLength="17.19" lengthAdjust="spacingAndGlyphs">3 min</text>
<polyline points="145.2,162.7 145.2,159.5 160,159.5 160,162.7" fill="none" stroke="#111" stroke-width="0.95"/>
<text x="152.6" y="156.8" font-size="6.8" text-anchor="middle" textLength="5.8" lengthAdjust="spacingAndGlyphs">††</text>
<circle cx="145.4" cy="166.3" r="0.78" fill="#1a1a1a"/>
<rect x="64.3" y="161.65" width="8" height="3.3" fill="#a8002b" />
<text x="75.9" y="165.1" font-size="6.2" textLength="9.16" lengthAdjust="spacingAndGlyphs">WT</text>
<rect x="64.3" y="171.45" width="8" height="3.3" fill="#2f4c80" />
<text x="75.9" y="175" font-size="6.2" font-style="italic" style="stroke-width:0.12px" textLength="12.32" lengthAdjust="spacingAndGlyphs">Ptpn</text>
<path d="M89.48,175 L90.3,170.91 L88.94,171.78" fill="none" stroke="#161616" stroke-width="0.71" stroke-linejoin="miter"/>
<path d="M92.21,175 L93.03,170.91 L91.67,171.78" fill="none" stroke="#161616" stroke-width="0.71" stroke-linejoin="miter"/>
<text x="93.9" y="173.51" font-size="3.47" style="stroke-width:0.05px" textLength="13.3" lengthAdjust="spacingAndGlyphs">D61G/+</text>
<text transform="translate(19.6,197.5) rotate(-90)" font-size="8.4" text-anchor="middle" style="stroke-width:0.2px" textLength="53" lengthAdjust="spacingAndGlyphs">TXB<tspan font-size="5.2" dy="1.6">2</tspan><tspan dy="-1.6"> production</tspan></text>
<text transform="translate(30.3,198.3) rotate(-90)" font-size="8.2" text-anchor="middle" style="stroke-width:0.2px" textLength="58.6" lengthAdjust="spacingAndGlyphs">(pg/10<tspan font-size="5" dy="-2.8">8</tspan><tspan dy="2.8"> platelets)</tspan></text>
<clipPath id="c1"><rect x="262.3" y="36.4" width="135.9" height="122.2"/></clipPath>
<g clip-path="url(#c1)">
<rect x="262.3" y="36.4" width="135.9" height="122.2" fill="#e0e0e0" />
<g filter="url(#b4)">
<rect x="280.4" y="55" width="14.1" height="61" fill-opacity="0.45"/>
<rect x="280.4" y="87" width="14.1" height="28" fill-opacity="0.4"/>
<rect x="280.4" y="41" width="14.1" height="14" fill-opacity="0.06"/>
<rect x="280.4" y="116" width="14.1" height="13" fill-opacity="0.07"/>
<rect x="297.3" y="55" width="14.1" height="61" fill-opacity="0.45"/>
<rect x="297.3" y="87" width="14.1" height="28" fill-opacity="0.4"/>
<rect x="297.3" y="41" width="14.1" height="14" fill-opacity="0.06"/>
<rect x="297.3" y="116" width="14.1" height="13" fill-opacity="0.07"/>
<rect x="314.3" y="55" width="13.7" height="61" fill-opacity="0.45"/>
<rect x="314.3" y="87" width="13.7" height="28" fill-opacity="0.4"/>
<rect x="314.3" y="41" width="13.7" height="14" fill-opacity="0.06"/>
<rect x="314.3" y="116" width="13.7" height="13" fill-opacity="0.07"/>
<rect x="348.5" y="55" width="13.2" height="61" fill-opacity="0.45"/>
<rect x="348.5" y="87" width="13.2" height="28" fill-opacity="0.4"/>
<rect x="348.5" y="41" width="13.2" height="14" fill-opacity="0.06"/>
<rect x="348.5" y="116" width="13.2" height="13" fill-opacity="0.07"/>
<rect x="365" y="55" width="13.5" height="61" fill-opacity="0.45"/>
<rect x="365" y="87" width="13.5" height="28" fill-opacity="0.4"/>
<rect x="365" y="41" width="13.5" height="14" fill-opacity="0.06"/>
<rect x="365" y="116" width="13.5" height="13" fill-opacity="0.07"/>
<rect x="382" y="55" width="13.6" height="61" fill-opacity="0.45"/>
<rect x="382" y="87" width="13.6" height="28" fill-opacity="0.4"/>
<rect x="382" y="41" width="13.6" height="14" fill-opacity="0.06"/>
<rect x="382" y="116" width="13.6" height="13" fill-opacity="0.07"/>
<rect x="331.5" y="96" width="13.8" height="11" fill-opacity="0.5"/>
<rect x="264" y="86" width="13.5" height="25" fill-opacity="0.35"/>
<rect x="264" y="42" width="13.5" height="44" fill-opacity="0.05"/>
<rect x="331.5" y="86" width="13.8" height="25" fill-opacity="0.35"/>
<rect x="331.5" y="42" width="13.8" height="44" fill-opacity="0.05"/>
</g>
<g filter="url(#bh)">
<rect x="263.7" y="45.65" width="14.1" height="5.5" rx="1.45" fill="url(#g0)" fill-opacity="0.12"/>
<rect x="263.7" y="53.15" width="14.1" height="5.9" rx="1.65" fill="url(#g1)" fill-opacity="0.35"/>
<rect x="263.7" y="60.45" width="14.1" height="5.5" rx="1.45" fill="url(#g0)" fill-opacity="0.1"/>
<rect x="263.7" y="74.6" width="14.1" height="5.8" rx="1.6" fill="url(#g2)" fill-opacity="0.1"/>
<rect x="263.7" y="80.25" width="14.1" height="6.1" rx="1.75" fill="url(#g3)" fill-opacity="0.4"/>
<rect x="263.7" y="85.35" width="14.1" height="8.3" rx="1.8" fill="url(#g4)" fill-opacity="0.95"/>
<rect x="263.7" y="90.75" width="14.1" height="6.1" rx="1.75" fill="url(#g3)" fill-opacity="0.6"/>
<rect x="263.7" y="93.95" width="14.1" height="6.3" rx="1.8" fill="url(#g5)" fill-opacity="0.85"/>
<rect x="263.7" y="98.05" width="14.1" height="6.1" rx="1.75" fill="url(#g3)" fill-opacity="0.55"/>
<rect x="263.7" y="101.65" width="14.1" height="6.3" rx="1.8" fill="url(#g5)" fill-opacity="0.85"/>
<rect x="263.7" y="106.55" width="14.1" height="5.9" rx="1.65" fill="url(#g1)" fill-opacity="0.8"/>
<rect x="263.7" y="127.85" width="14.1" height="5.5" rx="1.45" fill="url(#g0)" fill-opacity="0.25"/>
<rect x="280.1" y="41.25" width="14.7" height="5.5" rx="1.45" fill="url(#g0)" fill-opacity="0.65"/>
<rect x="280.1" y="44.35" width="14.7" height="5.7" rx="1.55" fill="url(#g6)" fill-opacity="0.85"/>
<rect x="280.1" y="46.95" width="14.7" height="6.1" rx="1.75" fill="url(#g3)" fill-opacity="0.35"/>
<rect x="280.1" y="49.15" width="14.7" height="6.5" rx="1.8" fill="url(#g7)" fill-opacity="0.45"/>
<rect x="280.1" y="52.15" width="14.7" height="10.3" rx="1.8" fill="url(#g8)" fill-opacity="0.97"/>
<rect x="280.1" y="60.25" width="14.7" height="6.7" rx="1.8" fill="url(#g9)" fill-opacity="0.8"/>
<rect x="280.1" y="63.6" width="14.7" height="5.8" rx="1.6" fill="url(#g2)" fill-opacity="0.55"/>
<rect x="280.1" y="66.15" width="14.7" height="6.1" rx="1.75" fill="url(#g3)" fill-opacity="0.8"/>
<rect x="280.1" y="68.55" width="14.7" height="5.5" rx="1.45" fill="url(#g0)" fill-opacity="0.5"/>
<rect x="280.1" y="70.65" width="14.7" height="6.3" rx="1.8" fill="url(#g5)" fill-opacity="0.85"/>
<rect x="280.1" y="73.35" width="14.7" height="11.3" rx="1.8" fill="url(#g10)" fill-opacity="0.97"/>
<rect x="280.1" y="80.7" width="14.7" height="5.8" rx="1.6" fill="url(#g2)" fill-opacity="0.55"/>
<rect x="280.1" y="83.35" width="14.7" height="6.3" rx="1.8" fill="url(#g5)" fill-opacity="0.85"/>
<rect x="280.1" y="85.65" width="14.7" height="8.3" rx="1.8" fill="url(#g4)" fill-opacity="0.97"/>
<rect x="280.1" y="90.65" width="14.7" height="6.3" rx="1.8" fill="url(#g5)" fill-opacity="0.85"/>
<rect x="280.1" y="93.75" width="14.7" height="6.7" rx="1.8" fill="url(#g9)" fill-opacity="0.95"/>
<rect x="280.1" y="97.95" width="14.7" height="6.3" rx="1.8" fill="url(#g5)" fill-opacity="0.85"/>
<rect x="280.1" y="101.55" width="14.7" height="6.5" rx="1.8" fill="url(#g7)" fill-opacity="0.95"/>
<rect x="280.1" y="106.05" width="14.7" height="6.5" rx="1.8" fill="url(#g7)" fill-opacity="0.95"/>
<rect x="280.1" y="109.95" width="14.7" height="6.7" rx="1.8" fill="url(#g9)" fill-opacity="0.9"/>
<rect x="280.1" y="128.05" width="14.7" height="5.9" rx="1.65" fill="url(#g1)" fill-opacity="0.5"/>
<rect x="280.1" y="131.75" width="14.7" height="6.1" rx="1.75" fill="url(#g3)" fill-opacity="0.5"/>
<rect x="280.1" y="141.35" width="14.7" height="5.7" rx="1.55" fill="url(#g6)" fill-opacity="0.15"/>
<rect x="280.1" y="149.75" width="14.7" height="7.3" rx="1.8" fill="url(#g11)" fill-opacity="0.95"/>
<rect x="297" y="41.25" width="14.7" height="5.5" rx="1.45" fill="url(#g0)" fill-opacity="0.65"/>
<rect x="297" y="44.35" width="14.7" height="5.7" rx="1.55" fill="url(#g6)" fill-opacity="0.85"/>
<rect x="297" y="46.95" width="14.7" height="6.1" rx="1.75" fill="url(#g3)" fill-opacity="0.35"/>
<rect x="297" y="49.15" width="14.7" height="6.5" rx="1.8" fill="url(#g7)" fill-opacity="0.45"/>
<rect x="297" y="52.15" width="14.7" height="10.3" rx="1.8" fill="url(#g8)" fill-opacity="0.97"/>
<rect x="297" y="60.25" width="14.7" height="6.7" rx="1.8" fill="url(#g9)" fill-opacity="0.8"/>
<rect x="297" y="63.6" width="14.7" height="5.8" rx="1.6" fill="url(#g2)" fill-opacity="0.55"/>
<rect x="297" y="66.15" width="14.7" height="6.1" rx="1.75" fill="url(#g3)" fill-opacity="0.8"/>
<rect x="297" y="68.55" width="14.7" height="5.5" rx="1.45" fill="url(#g0)" fill-opacity="0.5"/>
<rect x="297" y="70.65" width="14.7" height="6.3" rx="1.8" fill="url(#g5)" fill-opacity="0.85"/>
<rect x="297" y="73.35" width="14.7" height="11.3" rx="1.8" fill="url(#g10)" fill-opacity="0.97"/>
<rect x="297" y="80.7" width="14.7" height="5.8" rx="1.6" fill="url(#g2)" fill-opacity="0.55"/>
<rect x="297" y="83.35" width="14.7" height="6.3" rx="1.8" fill="url(#g5)" fill-opacity="0.85"/>
<rect x="297" y="85.65" width="14.7" height="8.3" rx="1.8" fill="url(#g4)" fill-opacity="0.97"/>
<rect x="297" y="90.65" width="14.7" height="6.3" rx="1.8" fill="url(#g5)" fill-opacity="0.85"/>
<rect x="297" y="93.75" width="14.7" height="6.7" rx="1.8" fill="url(#g9)" fill-opacity="0.95"/>
<rect x="297" y="97.95" width="14.7" height="6.3" rx="1.8" fill="url(#g5)" fill-opacity="0.85"/>
<rect x="297" y="101.55" width="14.7" height="6.5" rx="1.8" fill="url(#g7)" fill-opacity="0.95"/>
<rect x="297" y="106.05" width="14.7" height="6.5" rx="1.8" fill="url(#g7)" fill-opacity="0.95"/>
<rect x="297" y="109.95" width="14.7" height="6.7" rx="1.8" fill="url(#g9)" fill-opacity="0.9"/>
<rect x="297" y="128.05" width="14.7" height="5.9" rx="1.65" fill="url(#g1)" fill-opacity="0.5"/>
<rect x="297" y="131.75" width="14.7" height="6.1" rx="1.75" fill="url(#g3)" fill-opacity="0.5"/>
<rect x="297" y="141.35" width="14.7" height="5.7" rx="1.55" fill="url(#g6)" fill-opacity="0.38"/>
<rect x="297" y="149.75" width="14.7" height="7.3" rx="1.8" fill="url(#g11)" fill-opacity="0.95"/>
<rect x="314" y="41.25" width="14.3" height="5.5" rx="1.45" fill="url(#g0)" fill-opacity="0.5"/>
<rect x="314" y="44.35" width="14.3" height="5.7" rx="1.55" fill="url(#g6)" fill-opacity="0.8"/>
<rect x="314" y="46.95" width="14.3" height="6.1" rx="1.75" fill="url(#g3)" fill-opacity="0.3"/>
<rect x="314" y="49.15" width="14.3" height="6.5" rx="1.8" fill="url(#g7)" fill-opacity="0.4"/>
<rect x="314" y="52.85" width="14.3" height="9.3" rx="1.8" fill="url(#g12)" fill-opacity="0.93"/>
<rect x="314" y="60.35" width="14.3" height="6.5" rx="1.8" fill="url(#g7)" fill-opacity="0.75"/>
<rect x="314" y="63.6" width="14.3" height="5.8" rx="1.6" fill="url(#g2)" fill-opacity="0.5"/>
<rect x="314" y="66.25" width="14.3" height="5.9" rx="1.65" fill="url(#g1)" fill-opacity="0.75"/>
<rect x="314" y="68.55" width="14.3" height="5.5" rx="1.45" fill="url(#g0)" fill-opacity="0.45"/>
<rect x="314" y="70.75" width="14.3" height="6.1" rx="1.75" fill="url(#g3)" fill-opacity="0.8"/>
<rect x="314" y="73.95" width="14.3" height="10.1" rx="1.8" fill="url(#g13)" fill-opacity="0.95"/>
<rect x="314" y="80.7" width="14.3" height="5.8" rx="1.6" fill="url(#g2)" fill-opacity="0.5"/>
<rect x="314" y="83.35" width="14.3" height="6.3" rx="1.8" fill="url(#g5)" fill-opacity="0.8"/>
<rect x="314" y="85.65" width="14.3" height="8.3" rx="1.8" fill="url(#g4)" fill-opacity="0.97"/>
<rect x="314" y="90.65" width="14.3" height="6.3" rx="1.8" fill="url(#g5)" fill-opacity="0.85"/>
<rect x="314" y="93.75" width="14.3" height="6.7" rx="1.8" fill="url(#g9)" fill-opacity="0.95"/>
<rect x="314" y="97.95" width="14.3" height="6.3" rx="1.8" fill="url(#g5)" fill-opacity="0.85"/>
<rect x="314" y="101.55" width="14.3" height="6.5" rx="1.8" fill="url(#g7)" fill-opacity="0.95"/>
<rect x="314" y="106.05" width="14.3" height="6.5" rx="1.8" fill="url(#g7)" fill-opacity="0.9"/>
<rect x="314" y="110.05" width="14.3" height="6.5" rx="1.8" fill="url(#g7)" fill-opacity="0.75"/>
<rect x="314" y="128.05" width="14.3" height="5.9" rx="1.65" fill="url(#g1)" fill-opacity="0.5"/>
<rect x="314" y="131.75" width="14.3" height="6.1" rx="1.75" fill="url(#g3)" fill-opacity="0.5"/>
<rect x="314" y="141.35" width="14.3" height="5.7" rx="1.55" fill="url(#g6)" fill-opacity="0.38"/>
<rect x="314" y="149.95" width="14.3" height="6.9" rx="1.8" fill="url(#g14)" fill-opacity="0.9"/>
<rect x="331.2" y="45.75" width="14.4" height="5.5" rx="1.45" fill="url(#g0)" fill-opacity="0.15"/>
<rect x="331.2" y="52.95" width="14.4" height="5.9" rx="1.65" fill="url(#g1)" fill-opacity="0.4"/>
<rect x="331.2" y="58.95" width="14.4" height="5.5" rx="1.45" fill="url(#g0)" fill-opacity="0.1"/>
<rect x="331.2" y="81.55" width="14.4" height="6.1" rx="1.75" fill="url(#g3)" fill-opacity="0.55"/>
<rect x="331.2" y="85.95" width="14.4" height="8.3" rx="1.8" fill="url(#g4)" fill-opacity="0.97"/>
<rect x="331.2" y="90.75" width="14.4" height="6.1" rx="1.75" fill="url(#g3)" fill-opacity="0.7"/>
<rect x="331.2" y="94.6" width="14.4" height="6.8" rx="1.8" fill="url(#g15)" fill-opacity="0.95"/>
<rect x="331.2" y="98.1" width="14.4" height="6.8" rx="1.8" fill="url(#g15)" fill-opacity="0.9"/>
<rect x="331.2" y="101.6" width="14.4" height="6.8" rx="1.8" fill="url(#g15)" fill-opacity="0.95"/>
<rect x="331.2" y="105.85" width="14.4" height="6.1" rx="1.75" fill="url(#g3)" fill-opacity="0.75"/>
<rect x="331.2" y="128.45" width="14.4" height="5.7" rx="1.55" fill="url(#g6)" fill-opacity="0.5"/>
<rect x="331.2" y="132.55" width="14.4" height="5.7" rx="1.55" fill="url(#g6)" fill-opacity="0.2"/>
<rect x="348.2" y="40.15" width="13.8" height="5.7" rx="1.55" fill="url(#g6)" fill-opacity="0.3"/>
<rect x="348.2" y="44.85" width="13.8" height="6.1" rx="1.75" fill="url(#g3)" fill-opacity="0.7"/>
<rect x="348.2" y="48.15" width="13.8" height="6.3" rx="1.8" fill="url(#g5)" fill-opacity="0.45"/>
<rect x="348.2" y="51.85" width="13.8" height="9.1" rx="1.8" fill="url(#g16)" fill-opacity="0.97"/>
<rect x="348.2" y="59.85" width="13.8" height="6.3" rx="1.8" fill="url(#g5)" fill-opacity="0.75"/>
<rect x="348.2" y="65.75" width="13.8" height="5.7" rx="1.55" fill="url(#g6)" fill-opacity="0.7"/>
<rect x="348.2" y="71.15" width="13.8" height="6.1" rx="1.75" fill="url(#g3)" fill-opacity="0.65"/>
<rect x="348.2" y="74.95" width="13.8" height="8.5" rx="1.8" fill="url(#g17)" fill-opacity="0.97"/>
<rect x="348.2" y="80.85" width="13.8" height="6.1" rx="1.75" fill="url(#g3)" fill-opacity="0.5"/>
<rect x="348.2" y="85.7" width="13.8" height="8.8" rx="1.8" fill="url(#g18)" fill-opacity="0.97"/>
<rect x="348.2" y="91.05" width="13.8" height="6.3" rx="1.8" fill="url(#g5)" fill-opacity="0.9"/>
<rect x="348.2" y="94.3" width="13.8" height="6.8" rx="1.8" fill="url(#g15)" fill-opacity="0.97"/>
<rect x="348.2" y="98.1" width="13.8" height="6.8" rx="1.8" fill="url(#g15)" fill-opacity="0.95"/>
<rect x="348.2" y="101.6" width="13.8" height="6.8" rx="1.8" fill="url(#g15)" fill-opacity="0.95"/>
<rect x="348.2" y="105.75" width="13.8" height="6.3" rx="1.8" fill="url(#g5)" fill-opacity="0.95"/>
<rect x="348.2" y="109.75" width="13.8" height="6.5" rx="1.8" fill="url(#g7)" fill-opacity="0.85"/>
<rect x="348.2" y="127.95" width="13.8" height="6.1" rx="1.75" fill="url(#g3)" fill-opacity="0.65"/>
<rect x="348.2" y="132.15" width="13.8" height="6.1" rx="1.75" fill="url(#g3)" fill-opacity="0.65"/>
<rect x="348.2" y="141.05" width="13.8" height="5.5" rx="1.45" fill="url(#g0)" fill-opacity="0.1"/>
<rect x="348.2" y="149.05" width="13.8" height="6.9" rx="1.8" fill="url(#g14)" fill-opacity="0.8"/>
<rect x="364.7" y="40.15" width="14.1" height="5.7" rx="1.55" fill="url(#g6)" fill-opacity="0.3"/>
<rect x="364.7" y="44.85" width="14.1" height="6.1" rx="1.75" fill="url(#g3)" fill-opacity="0.65"/>
<rect x="364.7" y="48.15" width="14.1" height="6.3" rx="1.8" fill="url(#g5)" fill-opacity="0.4"/>
<rect x="364.7" y="52" width="14.1" height="8.8" rx="1.8" fill="url(#g18)" fill-opacity="0.95"/>
<rect x="364.7" y="59.85" width="14.1" height="6.3" rx="1.8" fill="url(#g5)" fill-opacity="0.7"/>
<rect x="364.7" y="65.75" width="14.1" height="5.7" rx="1.55" fill="url(#g6)" fill-opacity="0.65"/>
<rect x="364.7" y="71.15" width="14.1" height="6.1" rx="1.75" fill="url(#g3)" fill-opacity="0.6"/>
<rect x="364.7" y="75.05" width="14.1" height="8.3" rx="1.8" fill="url(#g4)" fill-opacity="0.95"/>
<rect x="364.7" y="80.85" width="14.1" height="6.1" rx="1.75" fill="url(#g3)" fill-opacity="0.45"/>
<rect x="364.7" y="85.7" width="14.1" height="8.8" rx="1.8" fill="url(#g18)" fill-opacity="0.97"/>
<rect x="364.7" y="91.05" width="14.1" height="6.3" rx="1.8" fill="url(#g5)" fill-opacity="0.9"/>
<rect x="364.7" y="94.3" width="14.1" height="6.8" rx="1.8" fill="url(#g15)" fill-opacity="0.97"/>
<rect x="364.7" y="98.1" width="14.1" height="6.8" rx="1.8" fill="url(#g15)" fill-opacity="0.95"/>
<rect x="364.7" y="101.6" width="14.1" height="6.8" rx="1.8" fill="url(#g15)" fill-opacity="0.95"/>
<rect x="364.7" y="105.75" width="14.1" height="6.3" rx="1.8" fill="url(#g5)" fill-opacity="0.95"/>
<rect x="364.7" y="109.75" width="14.1" height="6.5" rx="1.8" fill="url(#g7)" fill-opacity="0.75"/>
<rect x="364.7" y="127.95" width="14.1" height="6.1" rx="1.75" fill="url(#g3)" fill-opacity="0.6"/>
<rect x="364.7" y="132.15" width="14.1" height="6.1" rx="1.75" fill="url(#g3)" fill-opacity="0.5"/>
<rect x="364.7" y="141.05" width="14.1" height="5.5" rx="1.45" fill="url(#g0)" fill-opacity="0.18"/>
<rect x="364.7" y="149.15" width="14.1" height="6.7" rx="1.8" fill="url(#g9)" fill-opacity="0.6"/>
<rect x="381.7" y="40.15" width="14.2" height="5.7" rx="1.55" fill="url(#g6)" fill-opacity="0.25"/>
<rect x="381.7" y="44.85" width="14.2" height="6.1" rx="1.75" fill="url(#g3)" fill-opacity="0.55"/>
<rect x="381.7" y="48.15" width="14.2" height="6.3" rx="1.8" fill="url(#g5)" fill-opacity="0.35"/>
<rect x="381.7" y="52.5" width="14.2" height="7.8" rx="1.8" fill="url(#g19)" fill-opacity="0.9"/>
<rect x="381.7" y="59.85" width="14.2" height="6.3" rx="1.8" fill="url(#g5)" fill-opacity="0.6"/>
<rect x="381.7" y="65.75" width="14.2" height="5.7" rx="1.55" fill="url(#g6)" fill-opacity="0.5"/>
<rect x="381.7" y="71.15" width="14.2" height="6.1" rx="1.75" fill="url(#g3)" fill-opacity="0.5"/>
<rect x="381.7" y="75.3" width="14.2" height="7.8" rx="1.8" fill="url(#g19)" fill-opacity="0.9"/>
<rect x="381.7" y="80.85" width="14.2" height="6.1" rx="1.75" fill="url(#g3)" fill-opacity="0.4"/>
<rect x="381.7" y="85.7" width="14.2" height="8.8" rx="1.8" fill="url(#g18)" fill-opacity="0.97"/>
<rect x="381.7" y="91.05" width="14.2" height="6.3" rx="1.8" fill="url(#g5)" fill-opacity="0.85"/>
<rect x="381.7" y="94.3" width="14.2" height="6.8" rx="1.8" fill="url(#g15)" fill-opacity="0.95"/>
<rect x="381.7" y="98.1" width="14.2" height="6.8" rx="1.8" fill="url(#g15)" fill-opacity="0.95"/>
<rect x="381.7" y="101.6" width="14.2" height="6.8" rx="1.8" fill="url(#g15)" fill-opacity="0.95"/>
<rect x="381.7" y="105.75" width="14.2" height="6.3" rx="1.8" fill="url(#g5)" fill-opacity="0.9"/>
<rect x="381.7" y="109.85" width="14.2" height="6.3" rx="1.8" fill="url(#g5)" fill-opacity="0.55"/>
<rect x="381.7" y="127.95" width="14.2" height="6.1" rx="1.75" fill="url(#g3)" fill-opacity="0.55"/>
<rect x="381.7" y="132.15" width="14.2" height="6.1" rx="1.75" fill="url(#g3)" fill-opacity="0.45"/>
<rect x="381.7" y="141.05" width="14.2" height="5.5" rx="1.45" fill="url(#g0)" fill-opacity="0.2"/>
<rect x="381.7" y="149.25" width="14.2" height="6.5" rx="1.8" fill="url(#g7)" fill-opacity="0.25"/>
</g></g>
<rect x="262.3" y="36.4" width="135.9" height="122.2" fill="none" stroke="#151515" stroke-width="1.6"/>
<line x1="398.2" y1="41.05" x2="401.6" y2="41.05" stroke="#111" stroke-width="1"/>
<text x="405.2" y="43.65" font-size="7.4" textLength="26.73" lengthAdjust="spacingAndGlyphs">212 kDa</text>
<line x1="398.2" y1="57.2" x2="401.6" y2="57.2" stroke="#111" stroke-width="1"/>
<text x="405.2" y="59.8" font-size="7.4" textLength="26.2" lengthAdjust="spacingAndGlyphs">116 kDa</text>
<line x1="398.2" y1="81.6" x2="401.6" y2="81.6" stroke="#111" stroke-width="1"/>
<text x="405.2" y="84.2" font-size="7.4" textLength="22.74" lengthAdjust="spacingAndGlyphs">66 kDa</text>
<line x1="398.2" y1="106.2" x2="401.6" y2="106.2" stroke="#111" stroke-width="1"/>
<text x="405.2" y="108.8" font-size="7.4" textLength="22.74" lengthAdjust="spacingAndGlyphs">43 kDa</text>
<line x1="398.2" y1="140.8" x2="401.6" y2="140.8" stroke="#111" stroke-width="1"/>
<text x="405.2" y="143.4" font-size="7.4" textLength="22.74" lengthAdjust="spacingAndGlyphs">20 kDa</text>
<clipPath id="c2"><rect x="262.3" y="169.8" width="135.9" height="16.5"/></clipPath>
<g clip-path="url(#c2)">
<rect x="262.3" y="169.8" width="135.9" height="16.5" fill="#e6e6e6" />
<g filter="url(#b4)">
<rect x="262" y="180" width="136" height="10" fill-opacity="0.08"/>
<rect x="262" y="168" width="136" height="4" fill-opacity="0.12"/>
</g>
<g filter="url(#b1)">
<rect x="263" y="175.07" width="136" height="6.66" rx="1.8" fill="url(#g20)" fill-opacity="0.93"/>
<rect x="265" y="174.72" width="11.5" height="6.36" rx="1.8" fill="url(#g21)" fill-opacity="0.5"/>
<rect x="281.4" y="174.72" width="12.1" height="6.36" rx="1.8" fill="url(#g21)" fill-opacity="0.5"/>
<rect x="298.3" y="174.72" width="12.1" height="6.36" rx="1.8" fill="url(#g21)" fill-opacity="0.5"/>
<rect x="315.3" y="174.72" width="11.7" height="6.36" rx="1.8" fill="url(#g21)" fill-opacity="0.5"/>
<rect x="332.5" y="174.72" width="11.8" height="6.36" rx="1.8" fill="url(#g21)" fill-opacity="0.5"/>
<rect x="349.5" y="174.72" width="11.2" height="6.36" rx="1.8" fill="url(#g21)" fill-opacity="0.5"/>
<rect x="366" y="174.72" width="11.5" height="6.36" rx="1.8" fill="url(#g21)" fill-opacity="0.5"/>
<rect x="383" y="174.72" width="11.6" height="6.36" rx="1.8" fill="url(#g21)" fill-opacity="0.5"/>
</g></g>
<rect x="262.3" y="169.8" width="135.9" height="16.5" fill="none" stroke="#151515" stroke-width="1.6"/>
<clipPath id="c3"><rect x="262.3" y="195.6" width="135.9" height="16.4"/></clipPath>
<g clip-path="url(#c3)">
<rect x="262.3" y="195.6" width="135.9" height="16.4" fill="#d6d6d6" />
<g filter="url(#b4)">
<rect x="262" y="194" width="136" height="4.5" fill-opacity="0.06"/>
<rect x="262" y="206" width="136" height="7" fill-opacity="0.06"/>
</g>
<g filter="url(#b1)">
<rect x="264.5" y="198.92" width="12.8" height="7.16" rx="1.8" fill="url(#g22)" fill-opacity="0.97"/>
<rect x="280.9" y="198.92" width="13.4" height="7.16" rx="1.8" fill="url(#g22)" fill-opacity="0.97"/>
<rect x="297.8" y="198.92" width="13.4" height="7.16" rx="1.8" fill="url(#g22)" fill-opacity="0.97"/>
<rect x="314.8" y="198.92" width="13" height="7.16" rx="1.8" fill="url(#g22)" fill-opacity="0.97"/>
<rect x="332" y="198.92" width="13.1" height="7.16" rx="1.8" fill="url(#g22)" fill-opacity="0.97"/>
<rect x="349" y="198.92" width="12.5" height="7.16" rx="1.8" fill="url(#g22)" fill-opacity="0.97"/>
<rect x="365.5" y="198.92" width="12.8" height="7.16" rx="1.8" fill="url(#g22)" fill-opacity="0.97"/>
<rect x="382.5" y="198.92" width="12.9" height="7.16" rx="1.8" fill="url(#g22)" fill-opacity="0.97"/>
</g></g>
<rect x="262.3" y="195.6" width="135.9" height="16.4" fill="none" stroke="#151515" stroke-width="1.6"/>
<text x="298.4" y="16" font-size="7.4" text-anchor="middle" textLength="11.1" lengthAdjust="spacingAndGlyphs">WT</text>
<line x1="265.3" y1="21.5" x2="330.5" y2="21.5" stroke="#111" stroke-width="1.2"/>
<line x1="334.3" y1="21.5" x2="399.5" y2="21.5" stroke="#111" stroke-width="1.2"/>
<text x="350.8" y="15.6" font-size="7.4" font-style="italic" style="stroke-width:0.12px" textLength="15.47" lengthAdjust="spacingAndGlyphs">Ptpn</text>
<path d="M367.88,15.6 L368.86,10.72 L367.23,11.75" fill="none" stroke="#161616" stroke-width="0.85" stroke-linejoin="miter"/>
<path d="M371.31,15.6 L372.28,10.72 L370.66,11.75" fill="none" stroke="#161616" stroke-width="0.85" stroke-linejoin="miter"/>
<text x="373.3" y="13.82" font-size="4.14" style="stroke-width:0.05px" textLength="14.4" lengthAdjust="spacingAndGlyphs">D61G/+</text>
<text x="258.3" y="31.1" font-size="7.4" text-anchor="end" textLength="33.1" lengthAdjust="spacingAndGlyphs">Time (min)</text>
<text x="269.7" y="31.1" font-size="7.6" text-anchor="middle" textLength="4.01" lengthAdjust="spacingAndGlyphs">0</text>
<text x="287.1" y="31.1" font-size="7.6" text-anchor="middle" textLength="10.04" lengthAdjust="spacingAndGlyphs">0.5</text>
<text x="304.6" y="31.1" font-size="7.6" text-anchor="middle" textLength="10.04" lengthAdjust="spacingAndGlyphs">1.5</text>
<text x="320.8" y="31.1" font-size="7.6" text-anchor="middle" textLength="4.01" lengthAdjust="spacingAndGlyphs">6</text>
<text x="338" y="31.1" font-size="7.6" text-anchor="middle" textLength="4.01" lengthAdjust="spacingAndGlyphs">0</text>
<text x="355" y="31.1" font-size="7.6" text-anchor="middle" textLength="10.04" lengthAdjust="spacingAndGlyphs">0.5</text>
<text x="372.5" y="31.1" font-size="7.6" text-anchor="middle" textLength="10.04" lengthAdjust="spacingAndGlyphs">1.5</text>
<text x="390" y="31.1" font-size="7.6" text-anchor="middle" textLength="4.01" lengthAdjust="spacingAndGlyphs">6</text>
<text x="242" y="155" font-size="7.4" text-anchor="end" textLength="36.5" lengthAdjust="spacingAndGlyphs">FcR γ-chain</text>
<line x1="245" y1="152.6" x2="255.5" y2="152.6" stroke="#111" stroke-width="1"/><polygon points="258.2,152.6 253.3,150.1 253.3,155.1" fill="#111"/>
<text x="258.3" y="180.6" font-size="7.4" text-anchor="end" textLength="36" lengthAdjust="spacingAndGlyphs">FcR γ-chain</text>
<text x="258.3" y="206.3" font-size="7.4" text-anchor="end" textLength="15.96" lengthAdjust="spacingAndGlyphs">Actin</text>
<clipPath id="c4"><rect x="60.7" y="304.8" width="127.5" height="15.5"/></clipPath>
<g clip-path="url(#c4)">
<rect x="60.7" y="304.8" width="127.5" height="15.5" fill="#f1f1f1" />
<g filter="url(#b2)">
<rect x="63.4" y="309.08" width="9.4" height="8.84" rx="1.8" fill="url(#g23)" fill-opacity="0.03"/>
<rect x="78.4" y="310.28" width="11.6" height="8.64" rx="1.8" fill="url(#g24)" fill-opacity="0.85"/>
<rect x="78.4" y="306.28" width="11.6" height="8.24" rx="1.8" fill="url(#g25)" fill-opacity="0.55"/>
<rect x="94.5" y="310.28" width="11.8" height="8.64" rx="1.8" fill="url(#g24)" fill-opacity="0.7"/>
<rect x="94.5" y="306.28" width="11.8" height="8.24" rx="1.8" fill="url(#g25)" fill-opacity="0.45"/>
<rect x="110.2" y="306.18" width="13.2" height="13.24" rx="1.8" fill="url(#g26)" fill-opacity="0.98"/>
<rect x="127.4" y="308.58" width="11.4" height="9.84" rx="1.8" fill="url(#g27)" fill-opacity="0.03"/>
<rect x="142.9" y="308.08" width="10.7" height="10.84" rx="1.8" fill="url(#g28)" fill-opacity="0.17"/>
<rect x="158.4" y="308.08" width="11.4" height="10.84" rx="1.8" fill="url(#g28)" fill-opacity="0.15"/>
<rect x="174.5" y="308.08" width="11.5" height="10.84" rx="1.8" fill="url(#g28)" fill-opacity="0.12"/>
</g></g>
<rect x="60.7" y="304.8" width="127.5" height="15.5" fill="none" stroke="#151515" stroke-width="1.6"/>
<line x1="125" y1="304.8" x2="125" y2="320.3" stroke="#151515" stroke-width="1.3"/>
<clipPath id="c5"><rect x="60.7" y="326" width="127.5" height="15.5"/></clipPath>
<g clip-path="url(#c5)">
<rect x="60.7" y="326" width="127.5" height="15.5" fill="#ececec" />
<g filter="url(#bh)">
<ellipse cx="67.05" cy="335.8" rx="3.35" ry="4.12" fill="url(#g25)" fill-opacity="0.95"/>
<ellipse cx="72.75" cy="335.8" rx="3.35" ry="4.12" fill="url(#g25)" fill-opacity="0.95"/>
<rect x="66" y="332.78" width="7.8" height="6.04" rx="1" fill="url(#g29)" fill-opacity="0.47"/>
<ellipse cx="82.25" cy="335.8" rx="3.65" ry="4.12" fill="url(#g25)" fill-opacity="0.95"/>
<ellipse cx="88.55" cy="335.8" rx="3.65" ry="4.12" fill="url(#g25)" fill-opacity="0.95"/>
<rect x="80.9" y="332.78" width="9" height="6.04" rx="1" fill="url(#g29)" fill-opacity="0.47"/>
<ellipse cx="99.1" cy="335.8" rx="3.7" ry="4.12" fill="url(#g25)" fill-opacity="0.95"/>
<ellipse cx="105.5" cy="335.8" rx="3.7" ry="4.12" fill="url(#g25)" fill-opacity="0.95"/>
<rect x="97.7" y="332.78" width="9.2" height="6.04" rx="1" fill="url(#g29)" fill-opacity="0.47"/>
<ellipse cx="114.78" cy="335.8" rx="3.27" ry="4.12" fill="url(#g25)" fill-opacity="0.95"/>
<ellipse cx="120.32" cy="335.8" rx="3.27" ry="4.12" fill="url(#g25)" fill-opacity="0.95"/>
<rect x="113.8" y="332.78" width="7.5" height="6.04" rx="1" fill="url(#g29)" fill-opacity="0.47"/>
<ellipse cx="130.35" cy="333.4" rx="3.25" ry="4.02" fill="url(#g30)" fill-opacity="0.97"/>
<ellipse cx="135.85" cy="333.4" rx="3.25" ry="4.02" fill="url(#g30)" fill-opacity="0.97"/>
<rect x="129.4" y="330.43" width="7.4" height="5.94" rx="1" fill="url(#g31)" fill-opacity="0.48"/>
<rect x="127.4" y="335.18" width="11.4" height="5.84" rx="1.5" fill="url(#g32)" fill-opacity="0.33"/>
<ellipse cx="144.8" cy="333.4" rx="3.6" ry="4.02" fill="url(#g30)" fill-opacity="0.97"/>
<ellipse cx="151" cy="333.4" rx="3.6" ry="4.02" fill="url(#g30)" fill-opacity="0.97"/>
<rect x="143.5" y="330.43" width="8.8" height="5.94" rx="1" fill="url(#g31)" fill-opacity="0.48"/>
<rect x="141.5" y="335.18" width="12.8" height="5.84" rx="1.5" fill="url(#g32)" fill-opacity="0.33"/>
<ellipse cx="161" cy="333.4" rx="3.6" ry="4.02" fill="url(#g30)" fill-opacity="0.97"/>
<ellipse cx="167.2" cy="333.4" rx="3.6" ry="4.02" fill="url(#g30)" fill-opacity="0.97"/>
<rect x="159.7" y="330.43" width="8.8" height="5.94" rx="1" fill="url(#g31)" fill-opacity="0.48"/>
<rect x="157.7" y="335.18" width="12.8" height="5.84" rx="1.5" fill="url(#g32)" fill-opacity="0.33"/>
<ellipse cx="176.85" cy="333.4" rx="3.55" ry="4.02" fill="url(#g30)" fill-opacity="0.97"/>
<ellipse cx="182.95" cy="333.4" rx="3.55" ry="4.02" fill="url(#g30)" fill-opacity="0.97"/>
<rect x="175.6" y="330.43" width="8.6" height="5.94" rx="1" fill="url(#g31)" fill-opacity="0.48"/>
<rect x="173.6" y="335.18" width="12.6" height="5.84" rx="1.5" fill="url(#g32)" fill-opacity="0.33"/>
</g></g>
<rect x="60.7" y="326" width="127.5" height="15.5" fill="none" stroke="#151515" stroke-width="1.6"/>
<line x1="125" y1="326" x2="125" y2="341.5" stroke="#151515" stroke-width="1.3"/>
<clipPath id="c6"><rect x="60.7" y="346.6" width="127.5" height="15.8"/></clipPath>
<g clip-path="url(#c6)">
<rect x="60.7" y="346.6" width="127.5" height="15.8" fill="#f1f1f1" />
<g filter="url(#bh)">
<rect x="63.4" y="351.58" width="9.4" height="6.84" rx="1.8" fill="url(#g33)" fill-opacity="0.03"/>
<ellipse cx="80.95" cy="354.2" rx="3.45" ry="4.42" fill="url(#g23)" fill-opacity="0.97"/>
<ellipse cx="86.85" cy="354.2" rx="3.45" ry="4.42" fill="url(#g23)" fill-opacity="0.97"/>
<rect x="79.8" y="351.03" width="8.2" height="6.34" rx="1" fill="url(#g34)" fill-opacity="0.48"/>
<ellipse cx="98.75" cy="354.6" rx="2.85" ry="4.12" fill="url(#g25)" fill-opacity="0.95"/>
<ellipse cx="103.45" cy="354.6" rx="2.85" ry="4.12" fill="url(#g25)" fill-opacity="0.95"/>
<rect x="98.2" y="351.58" width="5.8" height="6.04" rx="1" fill="url(#g29)" fill-opacity="0.47"/>
<ellipse cx="114.72" cy="354.6" rx="3.02" ry="4.12" fill="url(#g25)" fill-opacity="0.95"/>
<ellipse cx="119.78" cy="354.6" rx="3.02" ry="4.12" fill="url(#g25)" fill-opacity="0.95"/>
<rect x="114" y="351.58" width="6.5" height="6.04" rx="1" fill="url(#g29)" fill-opacity="0.47"/>
<rect x="127.4" y="351.58" width="11.4" height="6.84" rx="1.8" fill="url(#g33)" fill-opacity="0.03"/>
<rect x="141.3" y="351.18" width="9.4" height="7.64" rx="1.8" fill="url(#g35)" fill-opacity="0.6"/>
<rect x="157.4" y="351.18" width="10.4" height="7.64" rx="1.8" fill="url(#g35)" fill-opacity="0.4"/>
<rect x="174.5" y="351.18" width="10.1" height="7.64" rx="1.8" fill="url(#g35)" fill-opacity="0.33"/>
</g></g>
<rect x="60.7" y="346.6" width="127.5" height="15.8" fill="none" stroke="#151515" stroke-width="1.6"/>
<line x1="125" y1="346.6" x2="125" y2="362.4" stroke="#151515" stroke-width="1.3"/>
<clipPath id="c7"><rect x="60.7" y="367.6" width="127.5" height="15.2"/></clipPath>
<g clip-path="url(#c7)">
<rect x="60.7" y="367.6" width="127.5" height="15.2" fill="#e3e3e3" />
<g filter="url(#b4)">
<rect x="61" y="377" width="127" height="6" fill-opacity="0.07"/>
</g>
<g filter="url(#bh)">
<rect x="66.7" y="368.7" width="12.2" height="9" rx="1.8" fill="url(#g36)" fill-opacity="0.45"/>
<rect x="82" y="368.7" width="11.7" height="9" rx="1.8" fill="url(#g36)" fill-opacity="0.45"/>
<rect x="97" y="368.7" width="11.9" height="9" rx="1.8" fill="url(#g36)" fill-opacity="0.55"/>
<rect x="112.5" y="368.7" width="10.8" height="9" rx="1.8" fill="url(#g36)" fill-opacity="0.55"/>
<rect x="128.7" y="370.1" width="10.1" height="9" rx="1.8" fill="url(#g36)" fill-opacity="0.45"/>
<rect x="143.6" y="370.1" width="10" height="9" rx="1.8" fill="url(#g36)" fill-opacity="0.45"/>
<rect x="158.4" y="370.1" width="10.3" height="9" rx="1.8" fill="url(#g36)" fill-opacity="0.5"/>
<rect x="172.8" y="370.1" width="10.5" height="9" rx="1.8" fill="url(#g36)" fill-opacity="0.5"/>
</g></g>
<rect x="60.7" y="367.6" width="127.5" height="15.2" fill="none" stroke="#151515" stroke-width="1.6"/>
<line x1="125" y1="367.6" x2="125" y2="382.8" stroke="#151515" stroke-width="1.3"/>
<clipPath id="c8"><rect x="60.7" y="387.8" width="127.5" height="15.2"/></clipPath>
<g clip-path="url(#c8)">
<rect x="60.7" y="387.8" width="127.5" height="15.2" fill="#f4f4f4" />
<g filter="url(#bh)">
<rect x="95" y="392.78" width="11.2" height="7.24" rx="1.8" fill="url(#g37)" fill-opacity="0.95"/>
<rect x="110.5" y="392.38" width="12.4" height="8.04" rx="1.8" fill="url(#g30)" fill-opacity="0.97"/>
<rect x="159" y="390.98" width="10.1" height="6.44" rx="1.8" fill="url(#g38)" fill-opacity="0.45"/>
<rect x="175.2" y="390.88" width="11" height="6.64" rx="1.8" fill="url(#g39)" fill-opacity="0.65"/>
</g></g>
<rect x="60.7" y="387.8" width="127.5" height="15.2" fill="none" stroke="#151515" stroke-width="1.6"/>
<line x1="125" y1="387.8" x2="125" y2="403" stroke="#151515" stroke-width="1.3"/>
<clipPath id="c9"><rect x="60.7" y="407.7" width="127.5" height="15.8"/></clipPath>
<g clip-path="url(#c9)">
<rect x="60.7" y="407.7" width="127.5" height="15.8" fill="#ededed" />
<g filter="url(#bh)">
<rect x="64" y="411.98" width="12.6" height="8.44" rx="1.8" fill="url(#g40)" fill-opacity="0.97"/>
<rect x="80.2" y="412.48" width="11.4" height="7.44" rx="1.8" fill="url(#g41)" fill-opacity="0.95"/>
<rect x="95.7" y="411.78" width="11.4" height="8.84" rx="1.8" fill="url(#g23)" fill-opacity="0.97"/>
<rect x="110.2" y="412.28" width="11.1" height="7.84" rx="1.8" fill="url(#g42)" fill-opacity="0.95"/>
<rect x="125.4" y="411.48" width="11.4" height="8.24" rx="1.8" fill="url(#g25)" fill-opacity="0.97"/>
<rect x="141.5" y="411.48" width="11.5" height="8.24" rx="1.8" fill="url(#g25)" fill-opacity="0.97"/>
<rect x="156.3" y="411.48" width="12.2" height="8.24" rx="1.8" fill="url(#g25)" fill-opacity="0.97"/>
<rect x="173.2" y="411.58" width="12.8" height="8.04" rx="1.8" fill="url(#g30)" fill-opacity="0.96"/>
</g></g>
<rect x="60.7" y="407.7" width="127.5" height="15.8" fill="none" stroke="#151515" stroke-width="1.6"/>
<line x1="125" y1="407.7" x2="125" y2="423.5" stroke="#151515" stroke-width="1.3"/>
<clipPath id="c10"><rect x="60.7" y="429.5" width="127.5" height="15.7"/></clipPath>
<g clip-path="url(#c10)">
<rect x="60.7" y="429.5" width="127.5" height="15.7" fill="#eeeeee" />
<g filter="url(#bh)">
<rect x="62" y="434.88" width="12.8" height="6.44" rx="1.8" fill="url(#g38)" fill-opacity="0.6"/>
<rect x="78.9" y="434.78" width="11.4" height="6.64" rx="1.8" fill="url(#g39)" fill-opacity="0.75"/>
<rect x="95" y="434.68" width="11.7" height="6.84" rx="1.8" fill="url(#g33)" fill-opacity="0.88"/>
<rect x="111.2" y="434.68" width="11.1" height="6.84" rx="1.8" fill="url(#g33)" fill-opacity="0.88"/>
<rect x="126.7" y="434.38" width="11.5" height="6.24" rx="1.7" fill="url(#g43)" fill-opacity="0.5"/>
<rect x="142.9" y="434.28" width="10.7" height="6.44" rx="1.8" fill="url(#g38)" fill-opacity="0.65"/>
<rect x="158.4" y="434.28" width="11.4" height="6.44" rx="1.8" fill="url(#g38)" fill-opacity="0.6"/>
<rect x="175.2" y="434.28" width="11" height="6.44" rx="1.8" fill="url(#g38)" fill-opacity="0.6"/>
</g></g>
<rect x="60.7" y="429.5" width="127.5" height="15.7" fill="none" stroke="#151515" stroke-width="1.6"/>
<line x1="125" y1="429.5" x2="125" y2="445.2" stroke="#151515" stroke-width="1.3"/>
<clipPath id="c11"><rect x="60.7" y="450.4" width="127.5" height="15.9"/></clipPath>
<g clip-path="url(#c11)">
<rect x="60.7" y="450.4" width="127.5" height="15.9" fill="#eaeaea" />
<g filter="url(#b4)">
<rect x="125" y="450" width="63" height="17" fill-opacity="0.05"/>
</g>
<g filter="url(#bh)">
<rect x="64" y="456.98" width="12.2" height="6.24" rx="1.7" fill="url(#g43)" fill-opacity="0.5"/>
<rect x="80.2" y="456.78" width="11.4" height="6.64" rx="1.8" fill="url(#g39)" fill-opacity="0.78"/>
<rect x="95.7" y="457.08" width="10.8" height="6.04" rx="1.6" fill="url(#g29)" fill-opacity="0.42"/>
<rect x="111.2" y="456.18" width="11.1" height="6.24" rx="1.7" fill="url(#g43)" fill-opacity="0.6"/>
<rect x="128" y="454.78" width="10.8" height="6.24" rx="1.7" fill="url(#g43)" fill-opacity="0.42"/>
<rect x="142.9" y="454.58" width="11.4" height="6.64" rx="1.8" fill="url(#g39)" fill-opacity="0.78"/>
<rect x="158.4" y="454.78" width="11.4" height="6.24" rx="1.7" fill="url(#g43)" fill-opacity="0.42"/>
<rect x="174.5" y="454.58" width="11.5" height="6.64" rx="1.8" fill="url(#g39)" fill-opacity="0.7"/>
</g></g>
<rect x="60.7" y="450.4" width="127.5" height="15.9" fill="none" stroke="#151515" stroke-width="1.6"/>
<line x1="125" y1="450.4" x2="125" y2="466.3" stroke="#151515" stroke-width="1.3"/>
<text x="94.4" y="285" font-size="7.4" text-anchor="middle" textLength="10.75" lengthAdjust="spacingAndGlyphs">WT</text>
<line x1="65" y1="290.5" x2="123.1" y2="290.5" stroke="#111" stroke-width="1.2"/>
<line x1="128.8" y1="290.5" x2="186.9" y2="290.5" stroke="#111" stroke-width="1.2"/>
<text x="138.75" y="284.75" font-size="7.4" font-style="italic" style="stroke-width:0.12px" textLength="15.75" lengthAdjust="spacingAndGlyphs">Ptpn</text>
<path d="M156.15,284.75 L157.13,279.87 L155.5,280.9" fill="none" stroke="#161616" stroke-width="0.85" stroke-linejoin="miter"/>
<path d="M159.64,284.75 L160.61,279.87 L158.99,280.9" fill="none" stroke="#161616" stroke-width="0.85" stroke-linejoin="miter"/>
<text x="161.65" y="282.97" font-size="4.14" style="stroke-width:0.05px" textLength="14.7" lengthAdjust="spacingAndGlyphs">D61G/+</text>
<text x="56.5" y="299.8" font-size="7.4" text-anchor="end" textLength="33.4" lengthAdjust="spacingAndGlyphs">Time (min)</text>
<text x="68.75" y="299.7" font-size="7.6" text-anchor="middle" textLength="4.01" lengthAdjust="spacingAndGlyphs">0</text>
<text x="85.6" y="299.7" font-size="7.6" text-anchor="middle" textLength="4.01" lengthAdjust="spacingAndGlyphs">1</text>
<text x="102.25" y="299.7" font-size="7.6" text-anchor="middle" textLength="4.01" lengthAdjust="spacingAndGlyphs">3</text>
<text x="118.1" y="299.7" font-size="7.6" text-anchor="middle" textLength="4.01" lengthAdjust="spacingAndGlyphs">6</text>
<text x="132.5" y="299.7" font-size="7.6" text-anchor="middle" textLength="4.01" lengthAdjust="spacingAndGlyphs">0</text>
<text x="149.4" y="299.7" font-size="7.6" text-anchor="middle" textLength="4.01" lengthAdjust="spacingAndGlyphs">1</text>
<text x="166" y="299.7" font-size="7.6" text-anchor="middle" textLength="4.01" lengthAdjust="spacingAndGlyphs">3</text>
<text x="181.9" y="299.7" font-size="7.6" text-anchor="middle" textLength="4.01" lengthAdjust="spacingAndGlyphs">6</text>
<text x="56.6" y="310.2" font-size="7.4" text-anchor="end" textLength="15.88" lengthAdjust="spacingAndGlyphs">pSyk</text>
<text x="56.6" y="319.4" font-size="7.4" text-anchor="end" textLength="38.6" lengthAdjust="spacingAndGlyphs">Tyr 525/526</text>
<text x="56.6" y="336.5" font-size="7.4" text-anchor="end" textLength="11.9" lengthAdjust="spacingAndGlyphs">Syk</text>
<text x="56.6" y="352.5" font-size="7.4" text-anchor="end" textLength="16.54" lengthAdjust="spacingAndGlyphs">pLAT</text>
<text x="56.6" y="360.8" font-size="7.4" text-anchor="end" textLength="23.81" lengthAdjust="spacingAndGlyphs">Tyr 191</text>
<text x="56.6" y="377.5" font-size="7.4" text-anchor="end" textLength="12.57" lengthAdjust="spacingAndGlyphs">LAT</text>
<text x="56.6" y="393.3" font-size="7.4" text-anchor="end" textLength="17.86" lengthAdjust="spacingAndGlyphs">pAKT</text>
<text x="56.6" y="401.8" font-size="7.4" text-anchor="end" textLength="25.01" lengthAdjust="spacingAndGlyphs">Ser 473</text>
<text x="56.6" y="417.5" font-size="7.4" text-anchor="end" textLength="13.89" lengthAdjust="spacingAndGlyphs">AKT</text>
<text x="56.6" y="435" font-size="7.4" text-anchor="end" textLength="25.4" lengthAdjust="spacingAndGlyphs">pPLCγ2</text>
<text x="56.6" y="443.8" font-size="7.4" text-anchor="end" textLength="23.81" lengthAdjust="spacingAndGlyphs">Tyr 759</text>
<text x="56.6" y="460.5" font-size="7.4" text-anchor="end" textLength="21.43" lengthAdjust="spacingAndGlyphs">PLCγ2</text>
<line x1="244" y1="325.75" x2="244" y2="330.5" stroke="#1a1a1a" stroke-width="1"/>
<line x1="241.65" y1="326.25" x2="246.35" y2="326.25" stroke="#1a1a1a" stroke-width="1.1"/>
<rect x="239.25" y="330" width="9.5" height="20.5" fill="#a8002b" stroke="#8c0020" stroke-width="0.35"/>
<line x1="253.38" y1="322" x2="253.38" y2="328" stroke="#1a1a1a" stroke-width="1"/>
<line x1="251.03" y1="322.5" x2="255.72" y2="322.5" stroke="#1a1a1a" stroke-width="1.1"/>
<rect x="248.75" y="327.5" width="9.25" height="23" fill="#2f4c80" stroke="#1d3464" stroke-width="0.35"/>
<line x1="273.38" y1="313.75" x2="273.38" y2="319.25" stroke="#1a1a1a" stroke-width="1"/>
<line x1="271.02" y1="314.25" x2="275.73" y2="314.25" stroke="#1a1a1a" stroke-width="1.1"/>
<rect x="268.75" y="318.75" width="9.25" height="31.75" fill="#a8002b" stroke="#8c0020" stroke-width="0.35"/>
<line x1="282.75" y1="323.75" x2="282.75" y2="326" stroke="#1a1a1a" stroke-width="1"/>
<line x1="280.4" y1="324.25" x2="285.1" y2="324.25" stroke="#1a1a1a" stroke-width="1.1"/>
<rect x="278" y="325.5" width="9.5" height="25" fill="#2f4c80" stroke="#1d3464" stroke-width="0.35"/>
<line x1="302.75" y1="287.5" x2="302.75" y2="300" stroke="#1a1a1a" stroke-width="1"/>
<line x1="300.4" y1="288" x2="305.1" y2="288" stroke="#1a1a1a" stroke-width="1.1"/>
<rect x="298" y="299.5" width="9.5" height="51" fill="#a8002b" stroke="#8c0020" stroke-width="0.35"/>
<line x1="312.12" y1="320.75" x2="312.12" y2="323.75" stroke="#1a1a1a" stroke-width="1"/>
<line x1="309.77" y1="321.25" x2="314.48" y2="321.25" stroke="#1a1a1a" stroke-width="1.1"/>
<rect x="307.5" y="323.25" width="9.25" height="27.25" fill="#2f4c80" stroke="#1d3464" stroke-width="0.35"/>
<line x1="332.25" y1="287.5" x2="332.25" y2="293.5" stroke="#1a1a1a" stroke-width="1"/>
<line x1="329.9" y1="288" x2="334.6" y2="288" stroke="#1a1a1a" stroke-width="1.1"/>
<rect x="327.5" y="293" width="9.5" height="57.5" fill="#a8002b" stroke="#8c0020" stroke-width="0.35"/>
<line x1="341.62" y1="324.25" x2="341.62" y2="327.5" stroke="#1a1a1a" stroke-width="1"/>
<line x1="339.27" y1="324.75" x2="343.98" y2="324.75" stroke="#1a1a1a" stroke-width="1.1"/>
<rect x="337" y="327" width="9.25" height="23.5" fill="#2f4c80" stroke="#1d3464" stroke-width="0.35"/>
<line x1="234.5" y1="265.3" x2="234.5" y2="351.05" stroke="#111" stroke-width="1.15"/>
<line x1="233.95" y1="350.5" x2="351.8" y2="350.5" stroke="#111" stroke-width="1.1"/>
<line x1="230.9" y1="350.5" x2="234.5" y2="350.5" stroke="#111" stroke-width="1"/>
<text x="227.8" y="353.35" font-size="8.2" text-anchor="end" textLength="3.95" lengthAdjust="spacingAndGlyphs">0</text>
<line x1="230.9" y1="329.88" x2="234.5" y2="329.88" stroke="#111" stroke-width="1"/>
<text x="227.8" y="332.73" font-size="8.2" text-anchor="end" textLength="3.95" lengthAdjust="spacingAndGlyphs">1</text>
<line x1="230.9" y1="309.25" x2="234.5" y2="309.25" stroke="#111" stroke-width="1"/>
<text x="227.8" y="312.1" font-size="8.2" text-anchor="end" textLength="3.95" lengthAdjust="spacingAndGlyphs">2</text>
<line x1="230.9" y1="288.62" x2="234.5" y2="288.62" stroke="#111" stroke-width="1"/>
<text x="227.8" y="291.48" font-size="8.2" text-anchor="end" textLength="3.95" lengthAdjust="spacingAndGlyphs">3</text>
<line x1="230.9" y1="268" x2="234.5" y2="268" stroke="#111" stroke-width="1"/>
<text x="227.8" y="270.85" font-size="8.2" text-anchor="end" textLength="3.95" lengthAdjust="spacingAndGlyphs">4</text>
<polyline points="302.2,281.1 302.2,277.9 312.5,277.9 312.5,281.1" fill="none" stroke="#111" stroke-width="0.95"/>
<text x="307.35" y="275.2" font-size="6.8" text-anchor="middle" textLength="2.9" lengthAdjust="spacingAndGlyphs">†</text>
<polyline points="331.5,281.1 331.5,277.9 341.6,277.9 341.6,281.1" fill="none" stroke="#111" stroke-width="0.95"/>
<text x="336.55" y="275.2" font-size="6.8" text-anchor="middle" textLength="5.8" lengthAdjust="spacingAndGlyphs">††</text>
<circle cx="302.5" cy="284.6" r="0.78" fill="#1a1a1a"/>
<circle cx="332" cy="284.6" r="0.78" fill="#1a1a1a"/>
<rect x="237.7" y="267.8" width="8.2" height="3.3" fill="#a8002b" />
<text x="248.9" y="271.15" font-size="6.2" textLength="9.16" lengthAdjust="spacingAndGlyphs">WT</text>
<rect x="237.7" y="277.05" width="8.2" height="3.3" fill="#2f4c80" />
<text x="248.9" y="280.5" font-size="6.2" font-style="italic" style="stroke-width:0.12px" textLength="13.44" lengthAdjust="spacingAndGlyphs">Ptpn</text>
<path d="M263.75,280.5 L264.57,276.41 L263.21,277.28" fill="none" stroke="#161616" stroke-width="0.71" stroke-linejoin="miter"/>
<path d="M266.73,280.5 L267.55,276.41 L266.19,277.28" fill="none" stroke="#161616" stroke-width="0.71" stroke-linejoin="miter"/>
<text x="268.5" y="279.01" font-size="3.47" style="stroke-width:0.05px" textLength="12.6" lengthAdjust="spacingAndGlyphs">D61G/+</text>
<text x="248.65" y="359.6" font-size="7.4" text-anchor="middle" textLength="23.83" lengthAdjust="spacingAndGlyphs">Resting</text>
<text x="277.85" y="359.6" font-size="7.4" text-anchor="middle" textLength="17.19" lengthAdjust="spacingAndGlyphs">1 min</text>
<text x="307.05" y="359.6" font-size="7.4" text-anchor="middle" textLength="17.19" lengthAdjust="spacingAndGlyphs">3 min</text>
<text x="336.25" y="359.6" font-size="7.4" text-anchor="middle" textLength="17.19" lengthAdjust="spacingAndGlyphs">6 min</text>
<text transform="translate(217.6,307.3) rotate(-90)" font-size="8.2" text-anchor="middle" style="stroke-width:0.2px" textLength="49.4" lengthAdjust="spacingAndGlyphs">pSyk/Syk (a.u.)</text>
<line x1="403.5" y1="334.5" x2="403.5" y2="336.75" stroke="#1a1a1a" stroke-width="1"/>
<line x1="401.15" y1="335" x2="405.85" y2="335" stroke="#1a1a1a" stroke-width="1.1"/>
<rect x="398.75" y="336.25" width="9.5" height="14.25" fill="#a8002b" stroke="#8c0020" stroke-width="0.35"/>
<line x1="412.88" y1="339.25" x2="412.88" y2="341.75" stroke="#1a1a1a" stroke-width="1"/>
<line x1="410.52" y1="339.75" x2="415.23" y2="339.75" stroke="#1a1a1a" stroke-width="1.1"/>
<rect x="408.25" y="341.25" width="9.25" height="9.25" fill="#2f4c80" stroke="#1d3464" stroke-width="0.35"/>
<line x1="432.88" y1="298.25" x2="432.88" y2="308.75" stroke="#1a1a1a" stroke-width="1"/>
<line x1="430.52" y1="298.75" x2="435.23" y2="298.75" stroke="#1a1a1a" stroke-width="1.1"/>
<rect x="428.25" y="308.25" width="9.25" height="42.25" fill="#a8002b" stroke="#8c0020" stroke-width="0.35"/>
<line x1="442.25" y1="323.25" x2="442.25" y2="328.75" stroke="#1a1a1a" stroke-width="1"/>
<line x1="439.9" y1="323.75" x2="444.6" y2="323.75" stroke="#1a1a1a" stroke-width="1.1"/>
<rect x="437.5" y="328.25" width="9.5" height="22.25" fill="#2f4c80" stroke="#1d3464" stroke-width="0.35"/>
<line x1="462.12" y1="289.25" x2="462.12" y2="298" stroke="#1a1a1a" stroke-width="1"/>
<line x1="459.77" y1="289.75" x2="464.48" y2="289.75" stroke="#1a1a1a" stroke-width="1.1"/>
<rect x="457.5" y="297.5" width="9.25" height="53" fill="#a8002b" stroke="#8c0020" stroke-width="0.35"/>
<line x1="471.5" y1="322" x2="471.5" y2="328.75" stroke="#1a1a1a" stroke-width="1"/>
<line x1="469.15" y1="322.5" x2="473.85" y2="322.5" stroke="#1a1a1a" stroke-width="1.1"/>
<rect x="466.75" y="328.25" width="9.5" height="22.25" fill="#2f4c80" stroke="#1d3464" stroke-width="0.35"/>
<line x1="491.62" y1="288.25" x2="491.62" y2="297" stroke="#1a1a1a" stroke-width="1"/>
<line x1="489.27" y1="288.75" x2="493.98" y2="288.75" stroke="#1a1a1a" stroke-width="1.1"/>
<rect x="487" y="296.5" width="9.25" height="54" fill="#a8002b" stroke="#8c0020" stroke-width="0.35"/>
<line x1="501" y1="324.5" x2="501" y2="330.5" stroke="#1a1a1a" stroke-width="1"/>
<line x1="498.65" y1="325" x2="503.35" y2="325" stroke="#1a1a1a" stroke-width="1.1"/>
<rect x="496.25" y="330" width="9.5" height="20.5" fill="#2f4c80" stroke="#1d3464" stroke-width="0.35"/>
<line x1="394.4" y1="265.3" x2="394.4" y2="351.05" stroke="#111" stroke-width="1.15"/>
<line x1="393.85" y1="350.5" x2="511.8" y2="350.5" stroke="#111" stroke-width="1.1"/>
<line x1="390.8" y1="350.5" x2="394.4" y2="350.5" stroke="#111" stroke-width="1"/>
<text x="387.4" y="353.35" font-size="8.2" text-anchor="end" textLength="3.95" lengthAdjust="spacingAndGlyphs">0</text>
<line x1="390.8" y1="329.88" x2="394.4" y2="329.88" stroke="#111" stroke-width="1"/>
<text x="387.4" y="332.73" font-size="8.2" text-anchor="end" textLength="3.95" lengthAdjust="spacingAndGlyphs">2</text>
<line x1="390.8" y1="309.25" x2="394.4" y2="309.25" stroke="#111" stroke-width="1"/>
<text x="387.4" y="312.1" font-size="8.2" text-anchor="end" textLength="3.95" lengthAdjust="spacingAndGlyphs">4</text>
<line x1="390.8" y1="288.62" x2="394.4" y2="288.62" stroke="#111" stroke-width="1"/>
<text x="387.4" y="291.48" font-size="8.2" text-anchor="end" textLength="3.95" lengthAdjust="spacingAndGlyphs">6</text>
<line x1="390.8" y1="268" x2="394.4" y2="268" stroke="#111" stroke-width="1"/>
<text x="387.4" y="270.85" font-size="8.2" text-anchor="end" textLength="3.95" lengthAdjust="spacingAndGlyphs">8</text>
<polyline points="462,281.7 462,278.5 472,278.5 472,281.7" fill="none" stroke="#111" stroke-width="0.95"/>
<text x="467" y="275.8" font-size="6.8" text-anchor="middle" textLength="5.8" lengthAdjust="spacingAndGlyphs">††</text>
<polyline points="491.25,281.7 491.25,278.5 501.25,278.5 501.25,281.7" fill="none" stroke="#111" stroke-width="0.95"/>
<text x="496.25" y="275.8" font-size="6.8" text-anchor="middle" textLength="5.8" lengthAdjust="spacingAndGlyphs">††</text>
<circle cx="462" cy="285.5" r="0.78" fill="#1a1a1a"/>
<circle cx="491.5" cy="284.5" r="0.78" fill="#1a1a1a"/>
<rect x="397.6" y="267.8" width="8.2" height="3.3" fill="#a8002b" />
<text x="408.8" y="271.15" font-size="6.2" textLength="9.16" lengthAdjust="spacingAndGlyphs">WT</text>
<rect x="397.6" y="277.05" width="8.2" height="3.3" fill="#2f4c80" />
<text x="408.8" y="280.5" font-size="6.2" font-style="italic" style="stroke-width:0.12px" textLength="13.44" lengthAdjust="spacingAndGlyphs">Ptpn</text>
<path d="M423.65,280.5 L424.47,276.41 L423.11,277.28" fill="none" stroke="#161616" stroke-width="0.71" stroke-linejoin="miter"/>
<path d="M426.63,280.5 L427.45,276.41 L426.09,277.28" fill="none" stroke="#161616" stroke-width="0.71" stroke-linejoin="miter"/>
<text x="428.4" y="279.01" font-size="3.47" style="stroke-width:0.05px" textLength="12.6" lengthAdjust="spacingAndGlyphs">D61G/+</text>
<text x="408.25" y="359.6" font-size="7.4" text-anchor="middle" textLength="23.83" lengthAdjust="spacingAndGlyphs">Resting</text>
<text x="437.45" y="359.6" font-size="7.4" text-anchor="middle" textLength="17.19" lengthAdjust="spacingAndGlyphs">1 min</text>
<text x="466.65" y="359.6" font-size="7.4" text-anchor="middle" textLength="17.19" lengthAdjust="spacingAndGlyphs">3 min</text>
<text x="495.85" y="359.6" font-size="7.4" text-anchor="middle" textLength="17.19" lengthAdjust="spacingAndGlyphs">6 min</text>
<text transform="translate(378.3,307.9) rotate(-90)" font-size="8.2" text-anchor="middle" style="stroke-width:0.2px" textLength="48.3" lengthAdjust="spacingAndGlyphs">pLAT/LAT (a.u.)</text>
<line x1="244" y1="462" x2="244" y2="463.75" stroke="#1a1a1a" stroke-width="1"/>
<line x1="241.65" y1="462.5" x2="246.35" y2="462.5" stroke="#1a1a1a" stroke-width="1.1"/>
<rect x="239.25" y="463.25" width="9.5" height="3.25" fill="#a8002b" stroke="#8c0020" stroke-width="0.35"/>
<line x1="253.38" y1="461.5" x2="253.38" y2="463.5" stroke="#1a1a1a" stroke-width="1"/>
<line x1="251.03" y1="462" x2="255.72" y2="462" stroke="#1a1a1a" stroke-width="1.1"/>
<rect x="248.75" y="463" width="9.25" height="3.5" fill="#2f4c80" stroke="#1d3464" stroke-width="0.35"/>
<line x1="273.38" y1="452.5" x2="273.38" y2="457.25" stroke="#1a1a1a" stroke-width="1"/>
<line x1="271.02" y1="453" x2="275.73" y2="453" stroke="#1a1a1a" stroke-width="1.1"/>
<rect x="268.75" y="456.75" width="9.25" height="9.75" fill="#a8002b" stroke="#8c0020" stroke-width="0.35"/>
<line x1="282.75" y1="458.25" x2="282.75" y2="461.25" stroke="#1a1a1a" stroke-width="1"/>
<line x1="280.4" y1="458.75" x2="285.1" y2="458.75" stroke="#1a1a1a" stroke-width="1.1"/>
<rect x="278" y="460.75" width="9.5" height="5.75" fill="#2f4c80" stroke="#1d3464" stroke-width="0.35"/>
<line x1="302.75" y1="410" x2="302.75" y2="419.75" stroke="#1a1a1a" stroke-width="1"/>
<line x1="300.4" y1="410.5" x2="305.1" y2="410.5" stroke="#1a1a1a" stroke-width="1.1"/>
<rect x="298" y="419.25" width="9.5" height="47.25" fill="#a8002b" stroke="#8c0020" stroke-width="0.35"/>
<line x1="312.12" y1="438.25" x2="312.12" y2="446.75" stroke="#1a1a1a" stroke-width="1"/>
<line x1="309.77" y1="438.75" x2="314.48" y2="438.75" stroke="#1a1a1a" stroke-width="1.1"/>
<rect x="307.5" y="446.25" width="9.25" height="20.25" fill="#2f4c80" stroke="#1d3464" stroke-width="0.35"/>
<line x1="332.25" y1="392" x2="332.25" y2="400.5" stroke="#1a1a1a" stroke-width="1"/>
<line x1="329.9" y1="392.5" x2="334.6" y2="392.5" stroke="#1a1a1a" stroke-width="1.1"/>
<rect x="327.5" y="400" width="9.5" height="66.5" fill="#a8002b" stroke="#8c0020" stroke-width="0.35"/>
<line x1="341.62" y1="435.75" x2="341.62" y2="444.25" stroke="#1a1a1a" stroke-width="1"/>
<line x1="339.27" y1="436.25" x2="343.98" y2="436.25" stroke="#1a1a1a" stroke-width="1.1"/>
<rect x="337" y="443.75" width="9.25" height="22.75" fill="#2f4c80" stroke="#1d3464" stroke-width="0.35"/>
<line x1="234.5" y1="382" x2="234.5" y2="467.05" stroke="#111" stroke-width="1.15"/>
<line x1="233.95" y1="466.5" x2="351.8" y2="466.5" stroke="#111" stroke-width="1.1"/>
<line x1="230.9" y1="466.5" x2="234.5" y2="466.5" stroke="#111" stroke-width="1"/>
<text x="227.8" y="469.35" font-size="8.2" text-anchor="end" textLength="3.95" lengthAdjust="spacingAndGlyphs">0</text>
<line x1="230.9" y1="439.33" x2="234.5" y2="439.33" stroke="#111" stroke-width="1"/>
<text x="227.8" y="442.18" font-size="8.2" text-anchor="end" textLength="7.9" lengthAdjust="spacingAndGlyphs">20</text>
<line x1="230.9" y1="412.17" x2="234.5" y2="412.17" stroke="#111" stroke-width="1"/>
<text x="227.8" y="415.02" font-size="8.2" text-anchor="end" textLength="7.9" lengthAdjust="spacingAndGlyphs">40</text>
<line x1="230.9" y1="385" x2="234.5" y2="385" stroke="#111" stroke-width="1"/>
<text x="227.8" y="387.85" font-size="8.2" text-anchor="end" textLength="7.9" lengthAdjust="spacingAndGlyphs">60</text>
<polyline points="302.2,403.95 302.2,400.75 312.5,400.75 312.5,403.95" fill="none" stroke="#111" stroke-width="0.95"/>
<text x="307.35" y="398.05" font-size="6.8" text-anchor="middle" textLength="2.9" lengthAdjust="spacingAndGlyphs">†</text>
<polyline points="331.5,385.2 331.5,382 341.6,382 341.6,385.2" fill="none" stroke="#111" stroke-width="0.95"/>
<text x="336.55" y="379.3" font-size="6.8" text-anchor="middle" textLength="8.7" lengthAdjust="spacingAndGlyphs">†††</text>
<circle cx="299.65" cy="407.5" r="0.78" fill="#1a1a1a"/>
<circle cx="302.5" cy="407.5" r="0.78" fill="#1a1a1a"/>
<circle cx="305.35" cy="407.5" r="0.78" fill="#1a1a1a"/>
<circle cx="329.15" cy="388.75" r="0.78" fill="#1a1a1a"/>
<circle cx="332" cy="388.75" r="0.78" fill="#1a1a1a"/>
<circle cx="334.85" cy="388.75" r="0.78" fill="#1a1a1a"/>
<rect x="237.7" y="384.2" width="8.2" height="3.3" fill="#a8002b" />
<text x="248.9" y="387.55" font-size="6.2" textLength="9.16" lengthAdjust="spacingAndGlyphs">WT</text>
<rect x="237.7" y="393.9" width="8.2" height="3.3" fill="#2f4c80" />
<text x="248.9" y="397.35" font-size="6.2" font-style="italic" style="stroke-width:0.12px" textLength="13.44" lengthAdjust="spacingAndGlyphs">Ptpn</text>
<path d="M263.75,397.35 L264.57,393.26 L263.21,394.13" fill="none" stroke="#161616" stroke-width="0.71" stroke-linejoin="miter"/>
<path d="M266.73,397.35 L267.55,393.26 L266.19,394.13" fill="none" stroke="#161616" stroke-width="0.71" stroke-linejoin="miter"/>
<text x="268.5" y="395.86" font-size="3.47" style="stroke-width:0.05px" textLength="12.6" lengthAdjust="spacingAndGlyphs">D61G/+</text>
<text x="248.65" y="476.8" font-size="7.4" text-anchor="middle" textLength="23.83" lengthAdjust="spacingAndGlyphs">Resting</text>
<text x="277.85" y="476.8" font-size="7.4" text-anchor="middle" textLength="17.19" lengthAdjust="spacingAndGlyphs">1 min</text>
<text x="307.05" y="476.8" font-size="7.4" text-anchor="middle" textLength="17.19" lengthAdjust="spacingAndGlyphs">3 min</text>
<text x="336.25" y="476.8" font-size="7.4" text-anchor="middle" textLength="17.19" lengthAdjust="spacingAndGlyphs">6 min</text>
<text transform="translate(214.2,424.4) rotate(-90)" font-size="8.2" text-anchor="middle" style="stroke-width:0.2px" textLength="51" lengthAdjust="spacingAndGlyphs">pAKT/AKT (a.u.)</text>
<line x1="403.5" y1="438" x2="403.5" y2="445" stroke="#1a1a1a" stroke-width="1"/>
<line x1="401.15" y1="438.5" x2="405.85" y2="438.5" stroke="#1a1a1a" stroke-width="1.1"/>
<rect x="398.75" y="444.5" width="9.5" height="22" fill="#a8002b" stroke="#8c0020" stroke-width="0.35"/>
<rect x="408.25" y="445.5" width="9.25" height="21" fill="#2f4c80" stroke="#1d3464" stroke-width="0.35"/>
<line x1="432.88" y1="418.25" x2="432.88" y2="428.75" stroke="#1a1a1a" stroke-width="1"/>
<line x1="430.52" y1="418.75" x2="435.23" y2="418.75" stroke="#1a1a1a" stroke-width="1.1"/>
<rect x="428.25" y="428.25" width="9.25" height="38.25" fill="#a8002b" stroke="#8c0020" stroke-width="0.35"/>
<line x1="442.25" y1="439.5" x2="442.25" y2="442.5" stroke="#1a1a1a" stroke-width="1"/>
<line x1="439.9" y1="440" x2="444.6" y2="440" stroke="#1a1a1a" stroke-width="1.1"/>
<rect x="437.5" y="442" width="9.5" height="24.5" fill="#2f4c80" stroke="#1d3464" stroke-width="0.35"/>
<line x1="462.12" y1="390.75" x2="462.12" y2="406" stroke="#1a1a1a" stroke-width="1"/>
<line x1="459.77" y1="391.25" x2="464.48" y2="391.25" stroke="#1a1a1a" stroke-width="1.1"/>
<rect x="457.5" y="405.5" width="9.25" height="61" fill="#a8002b" stroke="#8c0020" stroke-width="0.35"/>
<line x1="471.5" y1="433" x2="471.5" y2="438" stroke="#1a1a1a" stroke-width="1"/>
<line x1="469.15" y1="433.5" x2="473.85" y2="433.5" stroke="#1a1a1a" stroke-width="1.1"/>
<rect x="466.75" y="437.5" width="9.5" height="29" fill="#2f4c80" stroke="#1d3464" stroke-width="0.35"/>
<line x1="491.62" y1="390" x2="491.62" y2="403" stroke="#1a1a1a" stroke-width="1"/>
<line x1="489.27" y1="390.5" x2="493.98" y2="390.5" stroke="#1a1a1a" stroke-width="1.1"/>
<rect x="487" y="402.5" width="9.25" height="64" fill="#a8002b" stroke="#8c0020" stroke-width="0.35"/>
<line x1="501" y1="437" x2="501" y2="442.5" stroke="#1a1a1a" stroke-width="1"/>
<line x1="498.65" y1="437.5" x2="503.35" y2="437.5" stroke="#1a1a1a" stroke-width="1.1"/>
<rect x="496.25" y="442" width="9.5" height="24.5" fill="#2f4c80" stroke="#1d3464" stroke-width="0.35"/>
<line x1="394.4" y1="382" x2="394.4" y2="467.05" stroke="#111" stroke-width="1.15"/>
<line x1="393.85" y1="466.5" x2="511.8" y2="466.5" stroke="#111" stroke-width="1.1"/>
<line x1="390.8" y1="466.5" x2="394.4" y2="466.5" stroke="#111" stroke-width="1"/>
<text x="387.4" y="469.35" font-size="8.2" text-anchor="end" textLength="3.95" lengthAdjust="spacingAndGlyphs">0</text>
<line x1="390.8" y1="439.33" x2="394.4" y2="439.33" stroke="#111" stroke-width="1"/>
<text x="387.4" y="442.18" font-size="8.2" text-anchor="end" textLength="3.95" lengthAdjust="spacingAndGlyphs">2</text>
<line x1="390.8" y1="412.17" x2="394.4" y2="412.17" stroke="#111" stroke-width="1"/>
<text x="387.4" y="415.02" font-size="8.2" text-anchor="end" textLength="3.95" lengthAdjust="spacingAndGlyphs">4</text>
<line x1="390.8" y1="385" x2="394.4" y2="385" stroke="#111" stroke-width="1"/>
<text x="387.4" y="387.85" font-size="8.2" text-anchor="end" textLength="3.95" lengthAdjust="spacingAndGlyphs">6</text>
<polyline points="462,389.45 462,386.25 472,386.25 472,389.45" fill="none" stroke="#111" stroke-width="0.95"/>
<text x="467" y="383.55" font-size="6.8" text-anchor="middle" textLength="2.9" lengthAdjust="spacingAndGlyphs">†</text>
<polyline points="491.25,383.7 491.25,380.5 501.25,380.5 501.25,383.7" fill="none" stroke="#111" stroke-width="0.95"/>
<text x="496.25" y="377.8" font-size="6.8" text-anchor="middle" textLength="5.8" lengthAdjust="spacingAndGlyphs">††</text>
<circle cx="491.5" cy="387.5" r="0.78" fill="#1a1a1a"/>
<rect x="397.6" y="384.2" width="8.2" height="3.3" fill="#a8002b" />
<text x="408.8" y="387.55" font-size="6.2" textLength="9.16" lengthAdjust="spacingAndGlyphs">WT</text>
<rect x="397.6" y="393.9" width="8.2" height="3.3" fill="#2f4c80" />
<text x="408.8" y="397.35" font-size="6.2" font-style="italic" style="stroke-width:0.12px" textLength="13.44" lengthAdjust="spacingAndGlyphs">Ptpn</text>
<path d="M423.65,397.35 L424.47,393.26 L423.11,394.13" fill="none" stroke="#161616" stroke-width="0.71" stroke-linejoin="miter"/>
<path d="M426.63,397.35 L427.45,393.26 L426.09,394.13" fill="none" stroke="#161616" stroke-width="0.71" stroke-linejoin="miter"/>
<text x="428.4" y="395.86" font-size="3.47" style="stroke-width:0.05px" textLength="12.6" lengthAdjust="spacingAndGlyphs">D61G/+</text>
<text x="408.25" y="476.8" font-size="7.4" text-anchor="middle" textLength="23.83" lengthAdjust="spacingAndGlyphs">Resting</text>
<text x="437.45" y="476.8" font-size="7.4" text-anchor="middle" textLength="17.19" lengthAdjust="spacingAndGlyphs">1 min</text>
<text x="466.65" y="476.8" font-size="7.4" text-anchor="middle" textLength="17.19" lengthAdjust="spacingAndGlyphs">3 min</text>
<text x="495.85" y="476.8" font-size="7.4" text-anchor="middle" textLength="17.19" lengthAdjust="spacingAndGlyphs">6 min</text>
<text transform="translate(378.5,423.9) rotate(-90)" font-size="8.2" text-anchor="middle" style="stroke-width:0.2px" textLength="68.9" lengthAdjust="spacingAndGlyphs">pPLCγ2/PLCγ2 (a.u.)</text>
<rect x="0" y="0" width="520" height="1.4" fill="#000" />
<rect x="0" y="0" width="1.1" height="486" fill="#000" />
<rect x="518.6" y="0" width="1.4" height="486" fill="#000" />
<rect x="0" y="484.6" width="520" height="1.4" fill="#000" />
</svg></body></html>
